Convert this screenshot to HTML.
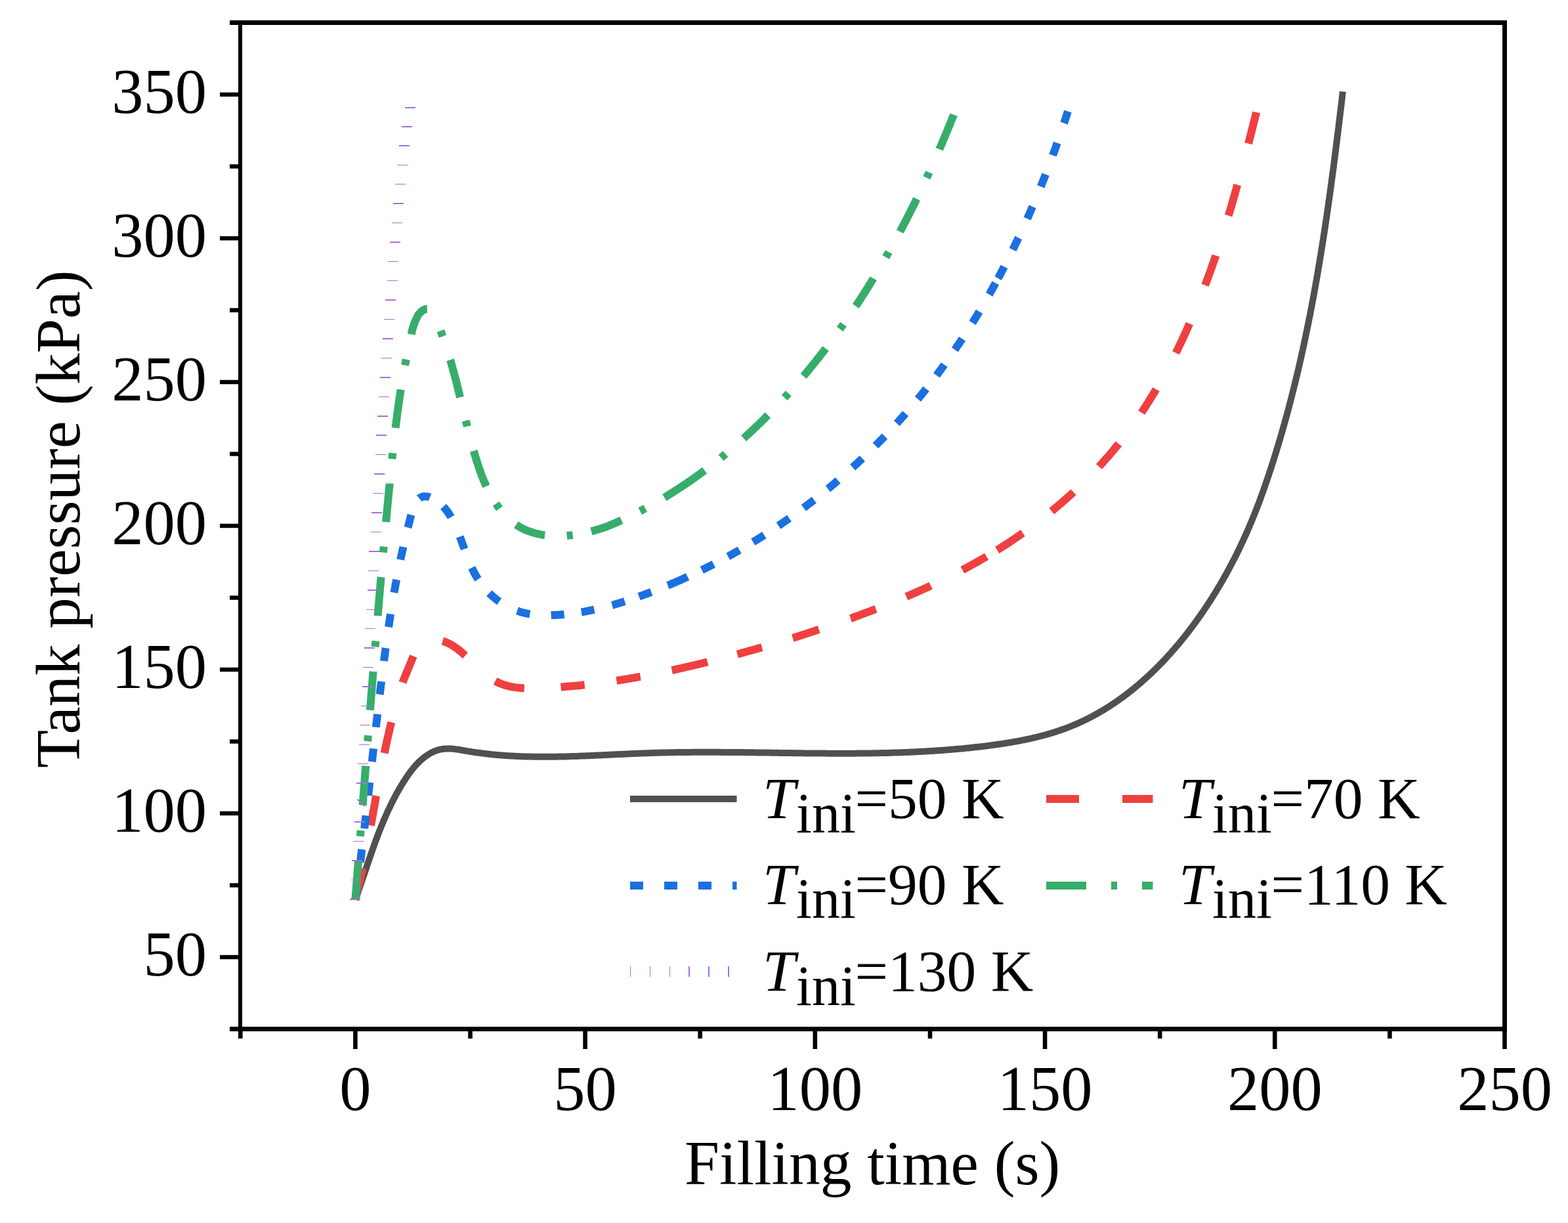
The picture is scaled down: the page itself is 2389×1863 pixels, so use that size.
<!DOCTYPE html>
<html><head><meta charset="utf-8"><title>Tank pressure vs filling time</title>
<style>html,body{margin:0;padding:0;background:#fff;}svg{display:block;}text{font-family:"Liberation Serif","Times New Roman",serif;fill:#000;}</style></head><body>
<svg width="2389" height="1863" viewBox="0 0 2389 1863">
<rect x="0" y="0" width="2389" height="1863" fill="#fff"/>
<g id="curves">
<path d="M541.4,1370.4 L542.1,1368.5 L542.8,1366.6 L543.5,1364.6 L544.1,1362.7 L544.8,1360.8 L545.5,1358.9 L546.2,1357.0 L546.8,1355.1 L547.5,1353.2 L548.2,1351.3 L548.8,1349.4 L549.5,1347.4 L550.1,1345.5 L550.8,1343.6 L551.4,1341.7 L552.1,1339.8 L552.7,1337.9 L553.4,1336.0 L554.0,1334.1 L554.6,1332.3 L555.3,1330.4 L555.9,1328.5 L556.6,1326.6 L557.2,1324.7 L557.8,1322.8 L558.5,1320.9 L559.1,1319.0 L559.7,1317.1 L560.4,1315.3 L561.0,1313.4 L561.7,1311.5 L562.3,1309.6 L562.9,1307.7 L563.6,1305.9 L564.2,1304.0 L564.9,1302.1 L565.5,1300.3 L566.2,1298.4 L566.8,1296.5 L567.5,1294.7 L568.1,1292.8 L568.8,1290.9 L569.5,1289.1 L570.1,1287.2 L570.8,1285.4 L571.5,1283.5 L572.2,1281.6 L572.8,1279.8 L573.5,1277.9 L574.2,1276.1 L574.9,1274.2 L575.6,1272.4 L576.3,1270.5 L577.0,1268.7 L577.7,1266.9 L578.4,1265.0 L579.2,1263.2 L579.9,1261.3 L580.6,1259.5 L581.4,1257.7 L582.1,1255.8 L582.9,1254.0 L583.7,1252.2 L584.4,1250.4 L585.2,1248.5 L586.0,1246.7 L586.8,1244.9 L587.6,1243.1 L588.4,1241.3 L589.2,1239.4 L590.0,1237.6 L590.8,1235.8 L591.7,1234.0 L592.5,1232.2 L593.4,1230.4 L594.3,1228.6 L595.1,1226.8 L596.0,1225.0 L596.9,1223.2 L597.8,1221.4 L598.7,1219.6 L599.6,1217.8 L600.6,1216.0 L601.5,1214.2 L602.5,1212.4 L603.4,1210.6 L604.4,1208.8 L605.4,1207.1 L606.4,1205.3 L607.4,1203.5 L608.4,1201.7 L609.5,1199.9 L610.5,1198.2 L611.6,1196.4 L612.6,1194.6 L613.7,1192.9 L614.8,1191.1 L615.9,1189.3 L617.1,1187.6 L618.2,1185.8 L619.4,1184.1 L620.5,1182.4 L621.7,1180.7 L622.9,1179.0 L624.1,1177.3 L625.4,1175.6 L626.6,1174.0 L627.9,1172.3 L629.2,1170.7 L630.5,1169.1 L631.9,1167.6 L633.2,1166.0 L634.6,1164.5 L636.0,1163.0 L637.4,1161.6 L638.9,1160.1 L640.4,1158.7 L641.9,1157.4 L643.4,1156.1 L644.9,1154.8 L646.5,1153.5 L648.1,1152.3 L649.7,1151.2 L651.4,1150.1 L653.0,1149.0 L654.7,1148.0 L656.4,1147.0 L658.1,1146.1 L659.9,1145.3 L661.6,1144.5 L663.4,1143.8 L665.2,1143.2 L667.0,1142.6 L668.9,1142.1 L670.7,1141.7 L672.6,1141.3 L674.5,1141.0 L676.3,1140.8 L678.2,1140.6 L680.2,1140.5 L682.1,1140.5 L684.0,1140.5 L686.0,1140.5 L687.9,1140.6 L689.9,1140.8 L691.8,1140.9 L693.8,1141.2 L695.8,1141.4 L697.7,1141.7 L699.7,1142.0 L701.7,1142.3 L703.7,1142.7 L705.6,1143.0 L707.6,1143.4 L709.6,1143.7 L711.6,1144.1 L713.5,1144.4 L715.5,1144.7 L717.5,1145.0 L719.5,1145.4 L721.5,1145.7 L723.5,1146.0 L725.4,1146.3 L727.4,1146.5 L729.4,1146.8 L731.4,1147.1 L733.4,1147.3 L735.4,1147.6 L737.3,1147.8 L739.3,1148.1 L741.3,1148.3 L743.3,1148.5 L745.3,1148.8 L747.3,1149.0 L749.3,1149.2 L751.3,1149.4 L753.2,1149.6 L755.2,1149.7 L757.2,1149.9 L759.2,1150.1 L761.2,1150.3 L763.2,1150.4 L765.2,1150.6 L767.2,1150.7 L769.2,1150.9 L771.2,1151.0 L773.1,1151.2 L775.1,1151.3 L777.1,1151.4 L779.1,1151.5 L781.1,1151.6 L783.1,1151.7 L785.1,1151.8 L787.1,1151.9 L789.1,1152.0 L791.1,1152.1 L793.1,1152.2 L795.1,1152.3 L797.1,1152.3 L799.1,1152.4 L801.1,1152.5 L803.1,1152.5 L805.1,1152.6 L807.1,1152.6 L809.1,1152.6 L811.1,1152.7 L813.0,1152.7 L815.0,1152.7 L817.0,1152.8 L819.0,1152.8 L821.0,1152.8 L823.0,1152.8 L825.0,1152.8 L827.0,1152.8 L829.0,1152.8 L831.0,1152.8 L833.0,1152.8 L835.0,1152.8 L837.0,1152.8 L839.0,1152.8 L841.0,1152.8 L843.0,1152.8 L845.0,1152.7 L847.0,1152.7 L849.0,1152.7 L851.0,1152.6 L853.0,1152.6 L855.0,1152.5 L857.1,1152.5 L859.1,1152.5 L861.1,1152.4 L863.1,1152.4 L865.1,1152.3 L867.1,1152.3 L869.1,1152.2 L871.1,1152.1 L873.1,1152.1 L875.1,1152.0 L877.1,1151.9 L879.1,1151.9 L881.1,1151.8 L883.1,1151.7 L885.1,1151.6 L887.1,1151.6 L889.1,1151.5 L891.1,1151.4 L893.1,1151.3 L895.1,1151.3 L897.1,1151.2 L899.1,1151.1 L901.1,1151.0 L903.1,1150.9 L905.1,1150.8 L907.1,1150.7 L909.1,1150.6 L911.2,1150.6 L913.2,1150.5 L915.2,1150.4 L917.2,1150.3 L919.2,1150.2 L921.2,1150.1 L923.2,1150.0 L925.2,1149.9 L927.2,1149.8 L929.2,1149.7 L931.2,1149.6 L933.2,1149.5 L935.2,1149.4 L937.2,1149.3 L939.2,1149.2 L941.2,1149.1 L943.2,1149.0 L945.2,1148.9 L947.2,1148.9 L949.3,1148.8 L951.3,1148.7 L953.3,1148.6 L955.3,1148.5 L957.3,1148.4 L959.3,1148.3 L961.3,1148.2 L963.3,1148.1 L965.3,1148.0 L967.3,1148.0 L969.3,1147.9 L971.3,1147.8 L973.3,1147.7 L975.3,1147.6 L977.3,1147.5 L979.3,1147.5 L981.3,1147.4 L983.3,1147.3 L985.3,1147.2 L987.3,1147.2 L989.3,1147.1 L991.3,1147.0 L993.3,1147.0 L995.4,1146.9 L997.4,1146.8 L999.4,1146.8 L1001.4,1146.7 L1003.4,1146.7 L1005.4,1146.6 L1007.4,1146.6 L1009.4,1146.5 L1011.4,1146.5 L1013.4,1146.4 L1015.4,1146.4 L1017.4,1146.3 L1019.4,1146.3 L1021.4,1146.3 L1023.4,1146.2 L1025.4,1146.2 L1027.4,1146.2 L1029.4,1146.1 L1031.4,1146.1 L1033.4,1146.1 L1035.4,1146.0 L1037.4,1146.0 L1039.4,1146.0 L1041.4,1146.0 L1043.4,1145.9 L1045.4,1145.9 L1047.4,1145.9 L1049.4,1145.9 L1051.4,1145.9 L1053.4,1145.9 L1055.4,1145.8 L1057.4,1145.8 L1059.4,1145.8 L1061.4,1145.8 L1063.4,1145.8 L1065.4,1145.8 L1067.4,1145.8 L1069.4,1145.8 L1071.4,1145.8 L1073.4,1145.8 L1075.4,1145.8 L1077.4,1145.8 L1079.4,1145.8 L1081.4,1145.8 L1083.4,1145.8 L1085.4,1145.8 L1087.4,1145.8 L1089.4,1145.8 L1091.4,1145.8 L1093.4,1145.8 L1095.4,1145.8 L1097.4,1145.8 L1099.4,1145.9 L1101.4,1145.9 L1103.4,1145.9 L1105.4,1145.9 L1107.4,1145.9 L1109.4,1145.9 L1111.4,1145.9 L1113.4,1145.9 L1115.4,1146.0 L1117.4,1146.0 L1119.4,1146.0 L1121.4,1146.0 L1123.4,1146.0 L1125.4,1146.1 L1127.4,1146.1 L1129.4,1146.1 L1131.4,1146.1 L1133.4,1146.1 L1135.4,1146.2 L1137.4,1146.2 L1139.4,1146.2 L1141.4,1146.2 L1143.4,1146.3 L1145.4,1146.3 L1147.4,1146.3 L1149.4,1146.3 L1151.4,1146.4 L1153.4,1146.4 L1155.4,1146.4 L1157.3,1146.4 L1159.3,1146.5 L1161.3,1146.5 L1163.3,1146.5 L1165.3,1146.6 L1167.3,1146.6 L1169.3,1146.6 L1171.3,1146.6 L1173.3,1146.7 L1175.3,1146.7 L1177.3,1146.7 L1179.3,1146.8 L1181.3,1146.8 L1183.3,1146.8 L1185.3,1146.8 L1187.3,1146.9 L1189.3,1146.9 L1191.3,1146.9 L1193.3,1147.0 L1195.3,1147.0 L1197.3,1147.0 L1199.3,1147.0 L1201.3,1147.1 L1203.3,1147.1 L1205.3,1147.1 L1207.3,1147.1 L1209.3,1147.2 L1211.3,1147.2 L1213.3,1147.2 L1215.3,1147.2 L1217.3,1147.3 L1219.3,1147.3 L1221.3,1147.3 L1223.3,1147.3 L1225.3,1147.4 L1227.3,1147.4 L1229.2,1147.4 L1231.2,1147.4 L1233.2,1147.4 L1235.2,1147.5 L1237.2,1147.5 L1239.2,1147.5 L1241.2,1147.5 L1243.2,1147.5 L1245.2,1147.6 L1247.2,1147.6 L1249.2,1147.6 L1251.2,1147.6 L1253.2,1147.6 L1255.2,1147.6 L1257.2,1147.6 L1259.2,1147.7 L1261.2,1147.7 L1263.2,1147.7 L1265.2,1147.7 L1267.2,1147.7 L1269.2,1147.7 L1271.2,1147.7 L1273.2,1147.7 L1275.2,1147.7 L1277.2,1147.7 L1279.2,1147.7 L1281.2,1147.7 L1283.2,1147.7 L1285.2,1147.7 L1287.2,1147.7 L1289.2,1147.7 L1291.2,1147.7 L1293.2,1147.7 L1295.2,1147.7 L1297.2,1147.7 L1299.2,1147.7 L1301.2,1147.7 L1303.2,1147.7 L1305.1,1147.6 L1307.1,1147.6 L1309.1,1147.6 L1311.1,1147.6 L1313.1,1147.6 L1315.1,1147.6 L1317.1,1147.5 L1319.1,1147.5 L1321.1,1147.5 L1323.1,1147.5 L1325.1,1147.4 L1327.1,1147.4 L1329.1,1147.4 L1331.1,1147.3 L1333.1,1147.3 L1335.1,1147.3 L1337.1,1147.2 L1339.1,1147.2 L1341.1,1147.1 L1343.1,1147.1 L1345.1,1147.1 L1347.1,1147.0 L1349.1,1147.0 L1351.1,1146.9 L1353.1,1146.9 L1355.1,1146.8 L1357.1,1146.8 L1359.1,1146.7 L1361.1,1146.6 L1363.1,1146.6 L1365.1,1146.5 L1367.1,1146.4 L1369.1,1146.4 L1371.1,1146.3 L1373.1,1146.2 L1375.1,1146.2 L1377.1,1146.1 L1379.1,1146.0 L1381.1,1145.9 L1383.1,1145.9 L1385.1,1145.8 L1387.1,1145.7 L1389.1,1145.6 L1391.1,1145.5 L1393.1,1145.4 L1395.1,1145.3 L1397.1,1145.2 L1399.1,1145.1 L1401.1,1145.0 L1403.1,1144.9 L1405.1,1144.8 L1407.1,1144.7 L1409.1,1144.6 L1411.1,1144.5 L1413.1,1144.3 L1415.1,1144.2 L1417.1,1144.1 L1419.1,1144.0 L1421.1,1143.9 L1423.1,1143.7 L1425.1,1143.6 L1427.1,1143.5 L1429.1,1143.3 L1431.1,1143.2 L1433.1,1143.0 L1435.1,1142.9 L1437.1,1142.7 L1439.1,1142.6 L1441.1,1142.4 L1443.1,1142.3 L1445.1,1142.1 L1447.1,1142.0 L1449.2,1141.8 L1451.2,1141.6 L1453.2,1141.5 L1455.2,1141.3 L1457.2,1141.1 L1459.2,1140.9 L1461.2,1140.7 L1463.2,1140.6 L1465.2,1140.4 L1467.2,1140.2 L1469.2,1140.0 L1471.2,1139.8 L1473.2,1139.6 L1475.2,1139.4 L1477.2,1139.2 L1479.2,1139.0 L1481.2,1138.8 L1483.2,1138.5 L1485.2,1138.3 L1487.2,1138.1 L1489.2,1137.9 L1491.2,1137.6 L1493.2,1137.4 L1495.3,1137.2 L1497.3,1136.9 L1499.3,1136.7 L1501.3,1136.4 L1503.3,1136.2 L1505.3,1135.9 L1507.3,1135.7 L1509.3,1135.4 L1511.3,1135.1 L1513.3,1134.9 L1515.3,1134.6 L1517.3,1134.3 L1519.3,1134.0 L1521.3,1133.8 L1523.3,1133.5 L1525.3,1133.2 L1527.3,1132.9 L1529.3,1132.6 L1531.3,1132.3 L1533.3,1131.9 L1535.3,1131.6 L1537.3,1131.3 L1539.3,1131.0 L1541.3,1130.6 L1543.3,1130.3 L1545.3,1129.9 L1547.3,1129.6 L1549.3,1129.2 L1551.3,1128.9 L1553.3,1128.5 L1555.2,1128.1 L1557.2,1127.7 L1559.2,1127.3 L1561.2,1126.9 L1563.1,1126.5 L1565.1,1126.1 L1567.1,1125.7 L1569.1,1125.3 L1571.0,1124.8 L1573.0,1124.4 L1574.9,1123.9 L1576.9,1123.5 L1578.8,1123.0 L1580.8,1122.5 L1582.7,1122.0 L1584.7,1121.5 L1586.6,1121.0 L1588.6,1120.5 L1590.5,1120.0 L1592.4,1119.5 L1594.3,1119.0 L1596.3,1118.4 L1598.2,1117.9 L1600.1,1117.3 L1602.0,1116.7 L1603.9,1116.2 L1605.8,1115.6 L1607.7,1115.0 L1609.6,1114.3 L1611.5,1113.7 L1613.4,1113.1 L1615.3,1112.5 L1617.2,1111.8 L1619.0,1111.1 L1620.9,1110.5 L1622.8,1109.8 L1624.6,1109.1 L1626.5,1108.4 L1628.3,1107.7 L1630.2,1107.0 L1632.0,1106.2 L1633.8,1105.5 L1635.7,1104.7 L1637.5,1103.9 L1639.3,1103.2 L1641.1,1102.4 L1642.9,1101.6 L1644.7,1100.8 L1646.5,1099.9 L1648.3,1099.1 L1650.1,1098.3 L1651.9,1097.4 L1653.7,1096.5 L1655.4,1095.7 L1657.2,1094.8 L1659.0,1093.9 L1660.7,1093.0 L1662.5,1092.1 L1664.2,1091.2 L1666.0,1090.2 L1667.7,1089.3 L1669.4,1088.3 L1671.1,1087.4 L1672.9,1086.4 L1674.6,1085.4 L1676.3,1084.4 L1678.0,1083.4 L1679.7,1082.4 L1681.4,1081.4 L1683.1,1080.4 L1684.8,1079.3 L1686.5,1078.3 L1688.1,1077.2 L1689.8,1076.2 L1691.5,1075.1 L1693.1,1074.0 L1694.8,1072.9 L1696.4,1071.8 L1698.1,1070.7 L1699.7,1069.6 L1701.3,1068.5 L1703.0,1067.3 L1704.6,1066.2 L1706.2,1065.0 L1707.8,1063.9 L1709.4,1062.7 L1711.0,1061.5 L1712.6,1060.4 L1714.2,1059.2 L1715.8,1058.0 L1717.4,1056.8 L1719.0,1055.5 L1720.6,1054.3 L1722.1,1053.1 L1723.7,1051.9 L1725.2,1050.6 L1726.8,1049.4 L1728.3,1048.1 L1729.9,1046.8 L1731.4,1045.5 L1733.0,1044.3 L1734.5,1043.0 L1736.0,1041.7 L1737.5,1040.4 L1739.0,1039.1 L1740.5,1037.7 L1742.0,1036.4 L1743.5,1035.1 L1745.0,1033.7 L1746.5,1032.4 L1748.0,1031.0 L1749.5,1029.7 L1750.9,1028.3 L1752.4,1026.9 L1753.9,1025.6 L1755.3,1024.2 L1756.8,1022.8 L1758.2,1021.4 L1759.6,1020.0 L1761.1,1018.6 L1762.5,1017.1 L1763.9,1015.7 L1765.3,1014.3 L1766.8,1012.8 L1768.2,1011.4 L1769.6,1010.0 L1771.0,1008.5 L1772.4,1007.0 L1773.7,1005.6 L1775.1,1004.1 L1776.5,1002.6 L1777.9,1001.1 L1779.2,999.7 L1780.6,998.2 L1782.0,996.7 L1783.3,995.2 L1784.7,993.7 L1786.0,992.1 L1787.3,990.6 L1788.7,989.1 L1790.0,987.6 L1791.3,986.0 L1792.6,984.5 L1793.9,983.0 L1795.2,981.4 L1796.5,979.9 L1797.8,978.3 L1799.1,976.7 L1800.4,975.2 L1801.7,973.6 L1802.9,972.0 L1804.2,970.4 L1805.5,968.9 L1806.7,967.3 L1808.0,965.7 L1809.2,964.1 L1810.5,962.5 L1811.7,960.9 L1812.9,959.3 L1814.2,957.6 L1815.4,956.0 L1816.6,954.4 L1817.8,952.8 L1819.0,951.2 L1820.2,949.5 L1821.4,947.9 L1822.6,946.3 L1823.8,944.6 L1825.0,943.0 L1826.1,941.3 L1827.3,939.7 L1828.5,938.0 L1829.6,936.4 L1830.8,934.7 L1831.9,933.0 L1833.1,931.4 L1834.2,929.7 L1835.3,928.0 L1836.4,926.4 L1837.6,924.7 L1838.7,923.0 L1839.8,921.3 L1840.9,919.6 L1842.0,917.9 L1843.1,916.3 L1844.2,914.6 L1845.3,912.9 L1846.3,911.2 L1847.4,909.5 L1848.5,907.8 L1849.5,906.1 L1850.6,904.4 L1851.7,902.7 L1852.7,901.0 L1853.7,899.2 L1854.8,897.5 L1855.8,895.8 L1856.8,894.1 L1857.9,892.4 L1858.9,890.7 L1859.9,888.9 L1860.9,887.2 L1861.9,885.5 L1862.9,883.8 L1863.9,882.0 L1864.9,880.3 L1865.8,878.6 L1866.8,876.8 L1867.8,875.1 L1868.8,873.3 L1869.7,871.6 L1870.7,869.8 L1871.6,868.1 L1872.6,866.4 L1873.5,864.6 L1874.4,862.8 L1875.4,861.1 L1876.3,859.3 L1877.2,857.6 L1878.1,855.8 L1879.0,854.0 L1880.0,852.3 L1880.9,850.5 L1881.8,848.7 L1882.7,847.0 L1883.5,845.2 L1884.4,843.4 L1885.3,841.6 L1886.2,839.9 L1887.1,838.1 L1887.9,836.3 L1888.8,834.5 L1889.6,832.7 L1890.5,830.9 L1891.3,829.1 L1892.2,827.3 L1893.0,825.5 L1893.9,823.7 L1894.7,821.9 L1895.5,820.1 L1896.3,818.3 L1897.1,816.5 L1898.0,814.7 L1898.8,812.9 L1899.6,811.0 L1900.4,809.2 L1901.2,807.4 L1902.0,805.6 L1902.7,803.7 L1903.5,801.9 L1904.3,800.1 L1905.1,798.3 L1905.9,796.4 L1906.6,794.6 L1907.4,792.7 L1908.1,790.9 L1908.9,789.1 L1909.6,787.2 L1910.4,785.4 L1911.1,783.5 L1911.9,781.7 L1912.6,779.8 L1913.3,777.9 L1914.1,776.1 L1914.8,774.2 L1915.5,772.4 L1916.2,770.5 L1916.9,768.6 L1917.7,766.8 L1918.4,764.9 L1919.1,763.0 L1919.8,761.2 L1920.5,759.3 L1921.1,757.4 L1921.8,755.5 L1922.5,753.6 L1923.2,751.8 L1923.9,749.9 L1924.6,748.0 L1925.2,746.1 L1925.9,744.2 L1926.6,742.3 L1927.2,740.4 L1927.9,738.6 L1928.5,736.7 L1929.2,734.8 L1929.8,732.9 L1930.5,731.0 L1931.1,729.1 L1931.8,727.2 L1932.4,725.3 L1933.1,723.4 L1933.7,721.5 L1934.3,719.6 L1934.9,717.7 L1935.6,715.8 L1936.2,713.9 L1936.8,712.0 L1937.4,710.1 L1938.0,708.2 L1938.7,706.2 L1939.3,704.3 L1939.9,702.4 L1940.5,700.5 L1941.1,698.6 L1941.7,696.7 L1942.3,694.8 L1942.9,692.9 L1943.5,691.0 L1944.1,689.0 L1944.7,687.1 L1945.2,685.2 L1945.8,683.3 L1946.4,681.4 L1947.0,679.5 L1947.6,677.5 L1948.1,675.6 L1948.7,673.7 L1949.3,671.8 L1949.9,669.9 L1950.4,668.0 L1951.0,666.0 L1951.6,664.1 L1952.1,662.2 L1952.7,660.3 L1953.2,658.3 L1953.8,656.4 L1954.3,654.5 L1954.9,652.6 L1955.4,650.6 L1956.0,648.7 L1956.5,646.8 L1957.1,644.9 L1957.6,642.9 L1958.1,641.0 L1958.7,639.1 L1959.2,637.1 L1959.7,635.2 L1960.3,633.3 L1960.8,631.3 L1961.3,629.4 L1961.8,627.5 L1962.3,625.6 L1962.9,623.6 L1963.4,621.7 L1963.9,619.7 L1964.4,617.8 L1964.9,615.9 L1965.4,613.9 L1965.9,612.0 L1966.4,610.1 L1966.9,608.1 L1967.4,606.2 L1967.9,604.3 L1968.4,602.3 L1968.9,600.4 L1969.4,598.4 L1969.9,596.5 L1970.4,594.5 L1970.9,592.6 L1971.3,590.7 L1971.8,588.7 L1972.3,586.8 L1972.8,584.8 L1973.3,582.9 L1973.7,580.9 L1974.2,579.0 L1974.7,577.1 L1975.1,575.1 L1975.6,573.2 L1976.1,571.2 L1976.5,569.3 L1977.0,567.3 L1977.5,565.4 L1977.9,563.4 L1978.4,561.5 L1978.8,559.5 L1979.3,557.6 L1979.7,555.6 L1980.2,553.7 L1980.6,551.7 L1981.1,549.8 L1981.5,547.8 L1982.0,545.9 L1982.4,543.9 L1982.8,542.0 L1983.3,540.0 L1983.7,538.0 L1984.1,536.1 L1984.6,534.1 L1985.0,532.2 L1985.4,530.2 L1985.8,528.3 L1986.3,526.3 L1986.7,524.4 L1987.1,522.4 L1987.5,520.4 L1987.9,518.5 L1988.4,516.5 L1988.8,514.6 L1989.2,512.6 L1989.6,510.6 L1990.0,508.7 L1990.4,506.7 L1990.8,504.8 L1991.2,502.8 L1991.6,500.8 L1992.0,498.9 L1992.4,496.9 L1992.8,494.9 L1993.2,493.0 L1993.6,491.0 L1994.0,489.1 L1994.4,487.1 L1994.8,485.1 L1995.2,483.2 L1995.6,481.2 L1996.0,479.2 L1996.3,477.3 L1996.7,475.3 L1997.1,473.3 L1997.5,471.4 L1997.9,469.4 L1998.2,467.4 L1998.6,465.5 L1999.0,463.5 L1999.4,461.5 L1999.7,459.6 L2000.1,457.6 L2000.5,455.6 L2000.8,453.7 L2001.2,451.7 L2001.6,449.7 L2001.9,447.7 L2002.3,445.8 L2002.6,443.8 L2003.0,441.8 L2003.4,439.9 L2003.7,437.9 L2004.1,435.9 L2004.4,433.9 L2004.8,432.0 L2005.1,430.0 L2005.5,428.0 L2005.8,426.0 L2006.2,424.1 L2006.5,422.1 L2006.8,420.1 L2007.2,418.2 L2007.5,416.2 L2007.9,414.2 L2008.2,412.2 L2008.5,410.3 L2008.9,408.3 L2009.2,406.3 L2009.5,404.3 L2009.9,402.3 L2010.2,400.4 L2010.5,398.4 L2010.9,396.4 L2011.2,394.4 L2011.5,392.5 L2011.8,390.5 L2012.2,388.5 L2012.5,386.5 L2012.8,384.5 L2013.1,382.6 L2013.5,380.6 L2013.8,378.6 L2014.1,376.6 L2014.4,374.7 L2014.7,372.7 L2015.0,370.7 L2015.3,368.7 L2015.7,366.7 L2016.0,364.8 L2016.3,362.8 L2016.6,360.8 L2016.9,358.8 L2017.2,356.8 L2017.5,354.9 L2017.8,352.9 L2018.1,350.9 L2018.4,348.9 L2018.7,346.9 L2019.0,344.9 L2019.3,343.0 L2019.6,341.0 L2019.9,339.0 L2020.2,337.0 L2020.5,335.0 L2020.8,333.1 L2021.1,331.1 L2021.4,329.1 L2021.7,327.1 L2021.9,325.1 L2022.2,323.1 L2022.5,321.2 L2022.8,319.2 L2023.1,317.2 L2023.4,315.2 L2023.7,313.2 L2023.9,311.2 L2024.2,309.3 L2024.5,307.3 L2024.8,305.3 L2025.1,303.3 L2025.4,301.3 L2025.6,299.3 L2025.9,297.4 L2026.2,295.4 L2026.5,293.4 L2026.7,291.4 L2027.0,289.4 L2027.3,287.4 L2027.6,285.4 L2027.8,283.5 L2028.1,281.5 L2028.4,279.5 L2028.6,277.5 L2028.9,275.5 L2029.2,273.5 L2029.4,271.6 L2029.7,269.6 L2030.0,267.6 L2030.2,265.6 L2030.5,263.6 L2030.8,261.6 L2031.0,259.6 L2031.3,257.7 L2031.6,255.7 L2031.8,253.7 L2032.1,251.7 L2032.3,249.7 L2032.6,247.7 L2032.8,245.7 L2033.1,243.8 L2033.4,241.8 L2033.6,239.8 L2033.9,237.8 L2034.1,235.8 L2034.4,233.8 L2034.6,231.8 L2034.9,229.9 L2035.1,227.9 L2035.4,225.9 L2035.6,223.9 L2035.9,221.9 L2036.1,219.9 L2036.4,218.0 L2036.6,216.0 L2036.9,214.0 L2037.1,212.0 L2037.4,210.0 L2037.6,208.0 L2037.9,206.0 L2038.1,204.1 L2038.4,202.1 L2038.6,200.1 L2038.9,198.1 L2039.1,196.1 L2039.4,194.1 L2039.6,192.2 L2039.8,190.2 L2040.1,188.2 L2040.3,186.2 L2040.6,184.2 L2040.8,182.2 L2041.0,180.2 L2041.3,178.3 L2041.5,176.3 L2041.8,174.3 L2042.0,172.3 L2042.2,170.3 L2042.5,168.3 L2042.7,166.4 L2043.0,164.4 L2043.2,162.4 L2043.4,160.4 L2043.7,158.4 L2043.9,156.4 L2044.1,154.5 L2044.4,152.5 L2044.6,150.5 L2044.8,148.5 L2045.1,146.5 L2045.3,144.6 L2045.5,142.6 L2045.8,140.6 L2045.9,139.6" fill="none" stroke="#505050" stroke-width="10" stroke-linejoin="round"/>
<path d="M541.4,1370.4 L541.9,1368.5 L542.4,1366.5 L542.9,1364.6 L543.3,1362.6 L543.8,1360.7 L544.3,1358.7 L544.7,1356.8 L545.2,1354.8 L545.7,1352.9 L546.1,1350.9 L546.6,1349.0 L547.0,1347.0 L547.5,1345.0 L547.9,1343.1 L548.4,1341.1 L548.8,1339.2 L549.2,1337.2 L549.7,1335.3 L550.1,1333.3 L550.5,1331.3 L550.9,1329.4 L551.4,1327.4 L551.8,1325.5 L552.2,1323.5 L552.6,1321.5 L553.0,1319.6 L553.4,1317.6 L553.8,1315.7 L554.2,1313.7 L554.6,1311.7 L555.0,1309.8 L555.4,1307.8 L555.8,1305.8 L556.2,1303.9 L556.6,1301.9 L557.0,1299.9 L557.4,1298.0 L557.8,1296.0 L558.2,1294.0 L558.5,1292.1 L558.9,1290.1 L559.3,1288.1 L559.7,1286.1 L560.0,1284.2 L560.4,1282.2 L560.8,1280.2 L561.2,1278.3 L561.5,1276.3 L561.9,1274.3 L562.3,1272.3 L562.6,1270.4 L563.0,1268.4 L563.4,1266.4 L563.7,1264.4 L564.1,1262.5 L564.4,1260.5 L564.8,1258.5 L565.2,1256.6 L565.5,1254.6 L565.9,1252.6 L566.2,1250.6 L566.6,1248.7 L567.0,1246.7 L567.3,1244.7 L567.7,1242.7 L568.0,1240.8 L568.4,1238.8 L568.7,1236.8 L569.1,1234.8 L569.4,1232.9 L569.8,1230.9 L570.2,1228.9 L570.5,1226.9 L570.9,1225.0 L571.2,1223.0 L571.6,1221.0 L571.9,1219.0 L572.3,1217.1 L572.6,1215.1 L573.0,1213.1 L573.4,1211.1 L573.7,1209.2 L574.1,1207.2 L574.4,1205.2 L574.8,1203.2 L575.2,1201.3 L575.5,1199.3 L575.9,1197.3 L576.3,1195.4 L576.6,1193.4 L577.0,1191.4 L577.4,1189.4 L577.7,1187.5 L578.1,1185.5 L578.5,1183.5 L578.8,1181.5 L579.2,1179.6 L579.6,1177.6 L580.0,1175.6 L580.3,1173.7 L580.7,1171.7 L581.1,1169.7 L581.5,1167.8 L581.9,1165.8 L582.3,1163.8 L582.7,1161.9 L583.0,1159.9 L583.4,1157.9 L583.8,1156.0 L584.2,1154.0 L584.6,1152.0 L585.0,1150.1 L585.4,1148.1 L585.8,1146.1 L586.3,1144.2 L586.7,1142.2 L587.1,1140.3 L587.5,1138.3 L587.9,1136.3 L588.3,1134.4 L588.8,1132.4 L589.2,1130.4 L589.6,1128.5 L590.1,1126.5 L590.5,1124.6 L590.9,1122.6 L591.4,1120.7 L591.8,1118.7 L592.3,1116.8 L592.7,1114.8 L593.2,1112.8 L593.6,1110.9 L594.1,1108.9 L594.6,1107.0 L595.0,1105.0 L595.5,1103.1 L596.0,1101.1 L596.5,1099.2 L597.0,1097.3 L597.4,1095.3 L597.9,1093.4 L598.4,1091.4 L598.9,1089.5 L599.4,1087.5 L599.9,1085.6 L600.5,1083.7 L601.0,1081.7 L601.5,1079.8 L602.0,1077.8 L602.5,1075.9 L603.1,1074.0 L603.6,1072.0 L604.2,1070.1 L604.7,1068.2 L605.3,1066.2 L605.8,1064.3 L606.4,1062.4 L606.9,1060.4 L607.5,1058.5 L608.1,1056.6 L608.7,1054.7 L609.3,1052.7 L609.8,1050.8 L610.4,1048.9 L611.0,1047.0 L611.6,1045.1 L612.3,1043.1 L612.9,1041.2 L613.5,1039.3 L614.3,1037.4 L615.0,1035.6 L615.8,1033.7 L616.6,1031.9 L617.3,1030.0 L618.1,1028.1 L618.8,1026.3 L619.6,1024.4 L620.4,1022.6 L621.1,1020.7 L621.9,1018.8 L622.7,1017.0 L623.4,1015.1 L624.2,1013.3 L624.9,1011.4 L625.7,1009.5 L626.5,1007.7 L627.2,1005.8 L628.0,1004.0 L628.8,1002.1 L629.5,1000.2 L630.3,998.3 L631.2,996.3 L632.2,994.4 L633.3,992.5 L634.4,990.7 L635.7,989.0 L637.0,987.4 L638.4,985.8 L639.8,984.3 L641.3,982.9 L642.9,981.6 L644.5,980.4 L646.2,979.3 L647.9,978.3 L649.7,977.4 L651.4,976.7 L653.2,976.0 L655.1,975.5 L656.9,975.1 L658.8,974.8 L660.6,974.7 L662.5,974.6 L664.4,974.7 L666.2,974.8 L668.1,975.1 L670.0,975.4 L671.8,975.8 L673.6,976.2 L675.5,976.8 L677.2,977.4 L679.0,978.1 L680.8,978.8 L682.5,979.6 L684.2,980.4 L685.9,981.3 L687.6,982.3 L689.2,983.2 L690.9,984.3 L692.5,985.4 L694.2,986.5 L695.8,987.6 L697.4,988.8 L699.0,990.1 L700.5,991.3 L702.1,992.6 L703.7,994.0 L705.2,995.3 L706.8,996.7 L708.3,998.1 L709.9,999.5 L711.4,1000.9 L712.9,1002.3 L714.5,1003.8 L716.0,1005.2 L717.5,1006.7 L719.0,1008.2 L720.5,1009.7 L722.1,1011.1 L723.6,1012.6 L725.1,1014.1 L726.6,1015.5 L728.2,1017.0 L729.7,1018.4 L731.3,1019.8 L732.8,1021.3 L734.4,1022.6 L735.9,1024.0 L737.5,1025.4 L739.1,1026.7 L740.7,1028.0 L742.3,1029.2 L743.9,1030.5 L745.5,1031.7 L747.2,1032.8 L748.8,1034.0 L750.5,1035.0 L752.2,1036.1 L753.9,1037.1 L755.6,1038.0 L757.4,1038.9 L759.1,1039.8 L760.9,1040.6 L762.7,1041.3 L764.5,1042.0 L766.3,1042.7 L768.1,1043.3 L770.0,1043.9 L771.8,1044.4 L773.7,1044.9 L775.6,1045.4 L777.5,1045.8 L779.4,1046.2 L781.3,1046.5 L783.3,1046.9 L785.2,1047.1 L787.1,1047.4 L789.1,1047.6 L791.1,1047.8 L793.1,1048.0 L795.0,1048.1 L797.0,1048.3 L799.0,1048.4 L801.0,1048.5 L803.0,1048.5 L805.1,1048.5 L807.1,1048.6 L809.1,1048.6 L811.1,1048.6 L813.2,1048.5 L815.2,1048.5 L817.2,1048.5 L819.3,1048.4 L821.3,1048.3 L823.3,1048.3 L825.4,1048.2 L827.4,1048.1 L829.4,1048.0 L831.5,1047.9 L833.5,1047.8 L835.5,1047.7 L837.5,1047.6 L839.6,1047.5 L841.6,1047.4 L843.6,1047.2 L845.6,1047.1 L847.7,1047.0 L849.7,1046.9 L851.7,1046.7 L853.7,1046.6 L855.7,1046.4 L857.8,1046.3 L859.8,1046.1 L861.8,1046.0 L863.8,1045.8 L865.8,1045.6 L867.8,1045.5 L869.8,1045.3 L871.8,1045.1 L873.8,1044.9 L875.9,1044.7 L877.9,1044.5 L879.9,1044.4 L881.9,1044.2 L883.9,1044.0 L885.9,1043.7 L887.9,1043.5 L889.9,1043.3 L891.9,1043.1 L893.9,1042.9 L895.9,1042.7 L897.9,1042.4 L899.9,1042.2 L901.8,1042.0 L903.8,1041.7 L905.8,1041.5 L907.8,1041.2 L909.8,1041.0 L911.8,1040.7 L913.8,1040.5 L915.8,1040.2 L917.8,1039.9 L919.7,1039.7 L921.7,1039.4 L923.7,1039.1 L925.7,1038.8 L927.7,1038.6 L929.7,1038.3 L931.6,1038.0 L933.6,1037.7 L935.6,1037.4 L937.6,1037.1 L939.5,1036.8 L941.5,1036.5 L943.5,1036.2 L945.5,1035.9 L947.4,1035.6 L949.4,1035.2 L951.4,1034.9 L953.4,1034.6 L955.3,1034.3 L957.3,1033.9 L959.3,1033.6 L961.2,1033.3 L963.2,1032.9 L965.2,1032.6 L967.1,1032.2 L969.1,1031.9 L971.1,1031.5 L973.0,1031.2 L975.0,1030.8 L977.0,1030.5 L978.9,1030.1 L980.9,1029.7 L982.8,1029.4 L984.8,1029.0 L986.8,1028.6 L988.7,1028.2 L990.7,1027.9 L992.6,1027.5 L994.6,1027.1 L996.6,1026.7 L998.5,1026.3 L1000.5,1025.9 L1002.4,1025.5 L1004.4,1025.1 L1006.3,1024.7 L1008.3,1024.3 L1010.2,1023.9 L1012.2,1023.5 L1014.1,1023.1 L1016.1,1022.7 L1018.0,1022.3 L1020.0,1021.8 L1021.9,1021.4 L1023.9,1021.0 L1025.8,1020.6 L1027.8,1020.1 L1029.7,1019.7 L1031.7,1019.3 L1033.6,1018.8 L1035.6,1018.4 L1037.5,1018.0 L1039.4,1017.5 L1041.4,1017.1 L1043.3,1016.6 L1045.3,1016.2 L1047.2,1015.7 L1049.2,1015.3 L1051.1,1014.8 L1053.0,1014.4 L1055.0,1013.9 L1056.9,1013.5 L1058.9,1013.0 L1060.8,1012.5 L1062.7,1012.1 L1064.7,1011.6 L1066.6,1011.1 L1068.6,1010.7 L1070.5,1010.2 L1072.4,1009.7 L1074.4,1009.2 L1076.3,1008.8 L1078.2,1008.3 L1080.2,1007.8 L1082.1,1007.3 L1084.1,1006.8 L1086.0,1006.3 L1087.9,1005.8 L1089.9,1005.4 L1091.8,1004.9 L1093.7,1004.4 L1095.7,1003.9 L1097.6,1003.4 L1099.5,1002.9 L1101.5,1002.4 L1103.4,1001.9 L1105.3,1001.4 L1107.3,1000.9 L1109.2,1000.3 L1111.1,999.8 L1113.0,999.3 L1115.0,998.8 L1116.9,998.3 L1118.8,997.8 L1120.8,997.3 L1122.7,996.7 L1124.6,996.2 L1126.6,995.7 L1128.5,995.2 L1130.4,994.6 L1132.3,994.1 L1134.3,993.6 L1136.2,993.0 L1138.1,992.5 L1140.0,992.0 L1142.0,991.4 L1143.9,990.9 L1145.8,990.4 L1147.7,989.8 L1149.7,989.3 L1151.6,988.7 L1153.5,988.2 L1155.4,987.6 L1157.3,987.1 L1159.3,986.5 L1161.2,986.0 L1163.1,985.4 L1165.0,984.8 L1166.9,984.3 L1168.9,983.7 L1170.8,983.1 L1172.7,982.6 L1174.6,982.0 L1176.5,981.4 L1178.5,980.9 L1180.4,980.3 L1182.3,979.7 L1184.2,979.1 L1186.1,978.6 L1188.0,978.0 L1189.9,977.4 L1191.9,976.8 L1193.8,976.2 L1195.7,975.6 L1197.6,975.1 L1199.5,974.5 L1201.4,973.9 L1203.3,973.3 L1205.2,972.7 L1207.1,972.1 L1209.1,971.5 L1211.0,970.9 L1212.9,970.3 L1214.8,969.7 L1216.7,969.1 L1218.6,968.5 L1220.5,967.8 L1222.4,967.2 L1224.3,966.6 L1226.2,966.0 L1228.1,965.4 L1230.0,964.8 L1231.9,964.1 L1233.8,963.5 L1235.7,962.9 L1237.6,962.3 L1239.5,961.6 L1241.4,961.0 L1243.3,960.4 L1245.2,959.7 L1247.1,959.1 L1249.0,958.5 L1250.9,957.8 L1252.8,957.2 L1254.7,956.5 L1256.6,955.9 L1258.5,955.3 L1260.4,954.6 L1262.3,954.0 L1264.2,953.3 L1266.1,952.7 L1268.0,952.0 L1269.9,951.3 L1271.8,950.7 L1273.6,950.0 L1275.5,949.4 L1277.4,948.7 L1279.3,948.0 L1281.2,947.4 L1283.1,946.7 L1285.0,946.0 L1286.9,945.3 L1288.8,944.7 L1290.6,944.0 L1292.5,943.3 L1294.4,942.6 L1296.3,942.0 L1298.2,941.3 L1300.1,940.6 L1301.9,939.9 L1303.8,939.2 L1305.7,938.5 L1307.6,937.8 L1309.4,937.1 L1311.3,936.4 L1313.2,935.7 L1315.1,935.0 L1317.0,934.3 L1318.8,933.6 L1320.7,932.9 L1322.6,932.2 L1324.4,931.5 L1326.3,930.8 L1328.2,930.1 L1330.1,929.4 L1331.9,928.6 L1333.8,927.9 L1335.7,927.2 L1337.5,926.5 L1339.4,925.7 L1341.3,925.0 L1343.1,924.3 L1345.0,923.5 L1346.8,922.8 L1348.7,922.1 L1350.6,921.3 L1352.4,920.6 L1354.3,919.8 L1356.1,919.1 L1358.0,918.3 L1359.8,917.6 L1361.7,916.8 L1363.5,916.1 L1365.4,915.3 L1367.2,914.5 L1369.1,913.8 L1370.9,913.0 L1372.8,912.2 L1374.6,911.5 L1376.5,910.7 L1378.3,909.9 L1380.2,909.1 L1382.0,908.3 L1383.8,907.5 L1385.7,906.8 L1387.5,906.0 L1389.3,905.2 L1391.2,904.4 L1393.0,903.6 L1394.8,902.8 L1396.7,902.0 L1398.5,901.1 L1400.3,900.3 L1402.1,899.5 L1404.0,898.7 L1405.8,897.9 L1407.6,897.0 L1409.4,896.2 L1411.2,895.4 L1413.1,894.6 L1414.9,893.7 L1416.7,892.9 L1418.5,892.0 L1420.3,891.2 L1422.1,890.3 L1423.9,889.5 L1425.7,888.6 L1427.5,887.8 L1429.3,886.9 L1431.1,886.0 L1432.9,885.2 L1434.7,884.3 L1436.5,883.4 L1438.3,882.6 L1440.1,881.7 L1441.9,880.8 L1443.7,879.9 L1445.5,879.0 L1447.3,878.1 L1449.0,877.2 L1450.8,876.3 L1452.6,875.4 L1454.4,874.5 L1456.2,873.6 L1457.9,872.7 L1459.7,871.8 L1461.5,870.8 L1463.2,869.9 L1465.0,869.0 L1466.8,868.0 L1468.5,867.1 L1470.3,866.2 L1472.1,865.2 L1473.8,864.3 L1475.6,863.3 L1477.3,862.4 L1479.1,861.4 L1480.8,860.4 L1482.6,859.5 L1484.3,858.5 L1486.1,857.5 L1487.8,856.5 L1489.5,855.6 L1491.3,854.6 L1493.0,853.6 L1494.7,852.6 L1496.5,851.6 L1498.2,850.6 L1499.9,849.6 L1501.6,848.6 L1503.4,847.5 L1505.1,846.5 L1506.8,845.5 L1508.5,844.5 L1510.2,843.4 L1511.9,842.4 L1513.6,841.4 L1515.3,840.3 L1517.0,839.3 L1518.7,838.2 L1520.4,837.2 L1522.1,836.1 L1523.8,835.0 L1525.5,834.0 L1527.2,832.9 L1528.9,831.8 L1530.6,830.7 L1532.3,829.6 L1533.9,828.6 L1535.6,827.5 L1537.3,826.4 L1538.9,825.3 L1540.6,824.2 L1542.3,823.0 L1543.9,821.9 L1545.6,820.8 L1547.3,819.7 L1548.9,818.5 L1550.6,817.4 L1552.2,816.3 L1553.9,815.1 L1555.5,814.0 L1557.1,812.8 L1558.8,811.7 L1560.4,810.5 L1562.1,809.4 L1563.7,808.2 L1565.3,807.0 L1566.9,805.9 L1568.6,804.7 L1570.2,803.5 L1571.8,802.3 L1573.4,801.1 L1575.0,799.9 L1576.6,798.7 L1578.2,797.5 L1579.8,796.3 L1581.4,795.1 L1583.0,793.9 L1584.6,792.7 L1586.2,791.4 L1587.8,790.2 L1589.3,789.0 L1590.9,787.7 L1592.5,786.5 L1594.1,785.2 L1595.6,784.0 L1597.2,782.7 L1598.7,781.5 L1600.3,780.2 L1601.9,778.9 L1603.4,777.7 L1605.0,776.4 L1606.5,775.1 L1608.0,773.8 L1609.6,772.6 L1611.1,771.3 L1612.6,770.0 L1614.2,768.7 L1615.7,767.4 L1617.2,766.1 L1618.7,764.8 L1620.2,763.4 L1621.7,762.1 L1623.2,760.8 L1624.7,759.5 L1626.2,758.1 L1627.7,756.8 L1629.2,755.5 L1630.7,754.1 L1632.2,752.8 L1633.7,751.4 L1635.1,750.1 L1636.6,748.7 L1638.1,747.3 L1639.5,746.0 L1641.0,744.6 L1642.4,743.2 L1643.9,741.8 L1645.3,740.5 L1646.8,739.1 L1648.2,737.7 L1649.7,736.3 L1651.1,734.9 L1652.5,733.5 L1653.9,732.1 L1655.3,730.7 L1656.8,729.3 L1658.2,727.8 L1659.6,726.4 L1661.0,725.0 L1662.4,723.6 L1663.8,722.1 L1665.2,720.7 L1666.5,719.2 L1667.9,717.8 L1669.3,716.3 L1670.7,714.9 L1672.0,713.4 L1673.4,712.0 L1674.7,710.5 L1676.1,709.0 L1677.5,707.5 L1678.8,706.1 L1680.1,704.6 L1681.5,703.1 L1682.8,701.6 L1684.1,700.1 L1685.4,698.6 L1686.8,697.1 L1688.1,695.6 L1689.4,694.1 L1690.7,692.6 L1692.0,691.1 L1693.3,689.5 L1694.6,688.0 L1695.8,686.5 L1697.1,685.0 L1698.4,683.4 L1699.7,681.9 L1700.9,680.3 L1702.2,678.8 L1703.5,677.2 L1704.7,675.7 L1705.9,674.1 L1707.2,672.6 L1708.4,671.0 L1709.7,669.4 L1710.9,667.8 L1712.1,666.3 L1713.3,664.7 L1714.5,663.1 L1715.7,661.5 L1716.9,659.9 L1718.1,658.3 L1719.3,656.7 L1720.5,655.1 L1721.7,653.5 L1722.9,651.9 L1724.0,650.3 L1725.2,648.7 L1726.4,647.0 L1727.5,645.4 L1728.7,643.8 L1729.8,642.2 L1731.0,640.5 L1732.1,638.9 L1733.3,637.2 L1734.4,635.6 L1735.5,633.9 L1736.6,632.3 L1737.8,630.6 L1738.9,629.0 L1740.0,627.3 L1741.1,625.7 L1742.2,624.0 L1743.3,622.3 L1744.4,620.6 L1745.5,619.0 L1746.5,617.3 L1747.6,615.6 L1748.7,613.9 L1749.8,612.2 L1750.8,610.5 L1751.9,608.8 L1752.9,607.1 L1754.0,605.4 L1755.0,603.7 L1756.1,602.0 L1757.1,600.3 L1758.2,598.6 L1759.2,596.9 L1760.2,595.2 L1761.2,593.5 L1762.2,591.7 L1763.3,590.0 L1764.3,588.3 L1765.3,586.6 L1766.3,584.8 L1767.3,583.1 L1768.3,581.3 L1769.3,579.6 L1770.2,577.9 L1771.2,576.1 L1772.2,574.4 L1773.2,572.6 L1774.1,570.9 L1775.1,569.1 L1776.1,567.3 L1777.0,565.6 L1778.0,563.8 L1778.9,562.1 L1779.9,560.3 L1780.8,558.5 L1781.7,556.7 L1782.7,555.0 L1783.6,553.2 L1784.5,551.4 L1785.4,549.6 L1786.4,547.9 L1787.3,546.1 L1788.2,544.3 L1789.1,542.5 L1790.0,540.7 L1790.9,538.9 L1791.8,537.1 L1792.7,535.3 L1793.6,533.5 L1794.4,531.7 L1795.3,529.9 L1796.2,528.1 L1797.1,526.3 L1797.9,524.5 L1798.8,522.7 L1799.7,520.9 L1800.5,519.0 L1801.4,517.2 L1802.2,515.4 L1803.1,513.6 L1803.9,511.8 L1804.8,509.9 L1805.6,508.1 L1806.4,506.3 L1807.3,504.5 L1808.1,502.6 L1808.9,500.8 L1809.7,499.0 L1810.5,497.1 L1811.4,495.3 L1812.2,493.5 L1813.0,491.6 L1813.8,489.8 L1814.6,487.9 L1815.4,486.1 L1816.2,484.2 L1817.0,482.4 L1817.7,480.6 L1818.5,478.7 L1819.3,476.9 L1820.1,475.0 L1820.8,473.2 L1821.6,471.3 L1822.4,469.4 L1823.1,467.6 L1823.9,465.7 L1824.7,463.9 L1825.4,462.0 L1826.2,460.2 L1826.9,458.3 L1827.7,456.4 L1828.4,454.6 L1829.1,452.7 L1829.9,450.8 L1830.6,449.0 L1831.3,447.1 L1832.1,445.2 L1832.8,443.4 L1833.5,441.5 L1834.2,439.6 L1834.9,437.8 L1835.6,435.9 L1836.3,434.0 L1837.0,432.1 L1837.8,430.3 L1838.5,428.4 L1839.1,426.5 L1839.8,424.6 L1840.5,422.8 L1841.2,420.9 L1841.9,419.0 L1842.6,417.1 L1843.3,415.2 L1843.9,413.4 L1844.6,411.5 L1845.3,409.6 L1846.0,407.7 L1846.6,405.8 L1847.3,403.9 L1847.9,402.1 L1848.6,400.2 L1849.3,398.3 L1849.9,396.4 L1850.6,394.5 L1851.2,392.6 L1851.9,390.7 L1852.5,388.8 L1853.1,386.9 L1853.8,385.1 L1854.4,383.2 L1855.0,381.3 L1855.7,379.4 L1856.3,377.5 L1856.9,375.6 L1857.5,373.7 L1858.2,371.8 L1858.8,369.9 L1859.4,368.0 L1860.0,366.1 L1860.6,364.2 L1861.2,362.3 L1861.9,360.4 L1862.5,358.5 L1863.1,356.6 L1863.7,354.7 L1864.3,352.8 L1864.9,350.9 L1865.5,349.0 L1866.0,347.1 L1866.6,345.2 L1867.2,343.3 L1867.8,341.4 L1868.4,339.5 L1869.0,337.6 L1869.6,335.6 L1870.1,333.7 L1870.7,331.8 L1871.3,329.9 L1871.9,328.0 L1872.4,326.1 L1873.0,324.2 L1873.6,322.3 L1874.2,320.4 L1874.7,318.5 L1875.3,316.5 L1875.8,314.6 L1876.4,312.7 L1877.0,310.8 L1877.5,308.9 L1878.1,307.0 L1878.6,305.0 L1879.2,303.1 L1879.7,301.2 L1880.3,299.3 L1880.8,297.4 L1881.4,295.4 L1881.9,293.5 L1882.5,291.6 L1883.0,289.7 L1883.5,287.8 L1884.1,285.8 L1884.6,283.9 L1885.1,282.0 L1885.7,280.1 L1886.2,278.1 L1886.7,276.2 L1887.3,274.3 L1887.8,272.4 L1888.3,270.4 L1888.9,268.5 L1889.4,266.6 L1889.9,264.7 L1890.4,262.7 L1891.0,260.8 L1891.5,258.9 L1892.0,256.9 L1892.5,255.0 L1893.0,253.1 L1893.5,251.1 L1894.1,249.2 L1894.6,247.3 L1895.1,245.4 L1895.6,243.4 L1896.1,241.5 L1896.6,239.5 L1897.1,237.6 L1897.6,235.7 L1898.2,233.7 L1898.7,231.8 L1899.2,229.9 L1899.7,227.9 L1900.2,226.0 L1900.7,224.1 L1901.2,222.1 L1901.7,220.2 L1902.2,218.2 L1902.7,216.3 L1903.2,214.4 L1903.7,212.4 L1904.2,210.5 L1904.7,208.5 L1905.2,206.6 L1905.7,204.7 L1906.2,202.7 L1906.7,200.8 L1907.2,198.8 L1907.7,196.9 L1908.2,194.9 L1908.6,193.0 L1909.1,191.0 L1909.6,189.1 L1910.1,187.2 L1910.6,185.2 L1911.1,183.3 L1911.6,181.3 L1912.1,179.4 L1912.6,177.4 L1913.1,175.5 L1913.6,173.5 L1914.1,171.6 L1914.3,170.6" fill="none" stroke="#EF4041" stroke-width="12" stroke-dasharray="49.1 66.2 46.1 66.2 48.1 63.3 43.2 55.7 41.4 60.1 46.0 55.8 36.3 49.1 36.9 48.9 55.8 46.9 39.0 49.0 42.0 51.1 41.1 50.0 41.0 53.9 41.9 19.0 47.0 55.1 44.1 55.0 45.9 58.9 42.0 63.1 49.2 63.2 48.0 63.8 48.9 65.0 49.2 2241.6"/>
<path d="M541.4,1370.4 L541.7,1368.4 L541.9,1366.4 L542.2,1364.4 L542.5,1362.4 L542.8,1360.4 L543.0,1358.4 L543.3,1356.4 L543.6,1354.4 L543.8,1352.4 L544.1,1350.5 L544.4,1348.5 L544.6,1346.5 L544.9,1344.5 L545.2,1342.5 L545.4,1340.5 L545.7,1338.5 L545.9,1336.5 L546.2,1334.5 L546.5,1332.5 L546.7,1330.5 L547.0,1328.6 L547.2,1326.6 L547.5,1324.6 L547.7,1322.6 L548.0,1320.6 L548.2,1318.6 L548.5,1316.6 L548.8,1314.6 L549.0,1312.7 L549.3,1310.7 L549.5,1308.7 L549.8,1306.7 L550.0,1304.7 L550.2,1302.7 L550.5,1300.8 L550.7,1298.8 L551.0,1296.8 L551.2,1294.8 L551.5,1292.8 L551.7,1290.8 L552.0,1288.8 L552.2,1286.9 L552.4,1284.9 L552.7,1282.9 L552.9,1280.9 L553.2,1278.9 L553.4,1277.0 L553.6,1275.0 L553.9,1273.0 L554.1,1271.0 L554.3,1269.0 L554.6,1267.0 L554.8,1265.1 L555.1,1263.1 L555.3,1261.1 L555.5,1259.1 L555.8,1257.1 L556.0,1255.2 L556.2,1253.2 L556.5,1251.2 L556.7,1249.2 L556.9,1247.2 L557.1,1245.3 L557.4,1243.3 L557.6,1241.3 L557.8,1239.3 L558.1,1237.4 L558.3,1235.4 L558.5,1233.4 L558.8,1231.4 L559.0,1229.4 L559.2,1227.5 L559.4,1225.5 L559.7,1223.5 L559.9,1221.5 L560.1,1219.5 L560.3,1217.6 L560.6,1215.6 L560.8,1213.6 L561.0,1211.6 L561.3,1209.6 L561.5,1207.7 L561.7,1205.7 L561.9,1203.7 L562.2,1201.7 L562.4,1199.8 L562.6,1197.8 L562.8,1195.8 L563.1,1193.8 L563.3,1191.8 L563.5,1189.9 L563.7,1187.9 L563.9,1185.9 L564.2,1183.9 L564.4,1181.9 L564.6,1180.0 L564.8,1178.0 L565.1,1176.0 L565.3,1174.0 L565.5,1172.0 L565.7,1170.1 L566.0,1168.1 L566.2,1166.1 L566.4,1164.1 L566.6,1162.1 L566.9,1160.2 L567.1,1158.2 L567.3,1156.2 L567.5,1154.2 L567.7,1152.2 L568.0,1150.3 L568.2,1148.3 L568.4,1146.3 L568.6,1144.3 L568.9,1142.3 L569.1,1140.3 L569.3,1138.4 L569.5,1136.4 L569.8,1134.4 L570.0,1132.4 L570.2,1130.4 L570.4,1128.4 L570.7,1126.5 L570.9,1124.5 L571.1,1122.5 L571.4,1120.5 L571.6,1118.5 L571.8,1116.5 L572.0,1114.5 L572.3,1112.6 L572.5,1110.6 L572.7,1108.6 L572.9,1106.6 L573.2,1104.6 L573.4,1102.6 L573.6,1100.6 L573.9,1098.6 L574.1,1096.7 L574.3,1094.7 L574.6,1092.7 L574.8,1090.7 L575.0,1088.7 L575.2,1086.7 L575.5,1084.7 L575.7,1082.7 L575.9,1080.7 L576.2,1078.7 L576.4,1076.7 L576.7,1074.8 L576.9,1072.8 L577.1,1070.8 L577.4,1068.8 L577.6,1066.8 L577.8,1064.8 L578.1,1062.8 L578.3,1060.8 L578.5,1058.8 L578.8,1056.8 L579.0,1054.8 L579.3,1052.8 L579.5,1050.8 L579.8,1048.8 L580.0,1046.8 L580.2,1044.8 L580.5,1042.8 L580.7,1040.8 L581.0,1038.8 L581.2,1036.8 L581.5,1034.8 L581.7,1032.8 L582.0,1030.8 L582.2,1028.8 L582.5,1026.8 L582.7,1024.8 L583.0,1022.8 L583.2,1020.8 L583.5,1018.8 L583.7,1016.8 L584.0,1014.8 L584.2,1012.8 L584.5,1010.8 L584.8,1008.8 L585.0,1006.8 L585.3,1004.8 L585.5,1002.8 L585.8,1000.8 L586.1,998.8 L586.3,996.8 L586.6,994.8 L586.8,992.8 L587.1,990.8 L587.4,988.8 L587.7,986.8 L587.9,984.8 L588.2,982.8 L588.5,980.8 L588.7,978.8 L589.0,976.8 L589.3,974.8 L589.6,972.8 L589.9,970.8 L590.1,968.9 L590.4,966.9 L590.7,964.9 L591.0,962.9 L591.3,960.9 L591.6,958.9 L591.8,957.0 L592.1,955.0 L592.4,953.0 L592.7,951.0 L593.0,949.0 L593.3,947.1 L593.6,945.1 L593.9,943.1 L594.2,941.2 L594.5,939.2 L594.8,937.2 L595.1,935.3 L595.4,933.3 L595.7,931.3 L596.1,929.4 L596.4,927.4 L596.7,925.5 L597.0,923.5 L597.3,921.6 L597.6,919.6 L598.0,917.7 L598.3,915.7 L598.6,913.8 L598.9,911.8 L599.3,909.9 L599.6,908.0 L599.9,906.0 L600.3,904.1 L600.6,902.2 L600.9,900.2 L601.3,898.3 L601.6,896.4 L602.0,894.5 L602.3,892.6 L602.6,890.7 L603.0,888.7 L603.4,886.8 L603.7,884.9 L604.1,883.0 L604.4,881.1 L604.8,879.2 L605.1,877.3 L605.5,875.4 L605.9,873.5 L606.3,871.6 L606.6,869.7 L607.0,867.8 L607.4,865.8 L607.8,863.9 L608.2,862.0 L608.6,860.1 L609.0,858.2 L609.4,856.2 L609.8,854.3 L610.2,852.4 L610.6,850.4 L611.0,848.5 L611.4,846.5 L611.9,844.6 L612.3,842.6 L612.7,840.6 L613.2,838.6 L613.6,836.7 L614.1,834.7 L614.5,832.7 L615.0,830.6 L615.5,828.6 L615.9,826.6 L616.4,824.6 L616.9,822.5 L617.4,820.4 L617.9,818.4 L618.4,816.3 L618.9,814.2 L619.4,812.1 L619.9,810.0 L620.4,807.8 L620.9,805.7 L621.5,803.5 L622.0,801.4 L622.6,799.2 L623.1,797.0 L623.7,794.8 L624.3,792.6 L624.8,790.3 L625.4,788.1 L626.0,785.8 L626.6,783.6 L627.3,781.4 L627.9,779.2 L628.6,777.0 L629.3,775.0 L630.1,772.9 L630.9,771.0 L631.7,769.1 L632.6,767.3 L633.5,765.6 L634.5,764.0 L635.5,762.5 L636.6,761.2 L637.8,760.0 L639.0,759.0 L640.3,758.1 L641.7,757.4 L643.1,756.8 L644.6,756.5 L646.2,756.2 L647.8,756.2 L649.4,756.2 L651.1,756.5 L652.8,756.8 L654.5,757.3 L656.2,758.0 L657.9,758.7 L659.6,759.5 L661.3,760.5 L663.0,761.5 L664.6,762.5 L666.1,763.6 L667.7,764.7 L669.2,765.9 L670.6,767.1 L672.0,768.4 L673.4,769.7 L674.7,771.0 L676.0,772.4 L677.3,773.8 L678.5,775.2 L679.7,776.7 L680.8,778.2 L682.0,779.7 L683.1,781.3 L684.1,782.9 L685.2,784.5 L686.2,786.1 L687.2,787.8 L688.2,789.5 L689.1,791.2 L690.1,793.0 L691.0,794.7 L691.9,796.5 L692.7,798.3 L693.6,800.2 L694.4,802.0 L695.2,803.9 L696.0,805.8 L696.8,807.7 L697.6,809.6 L698.4,811.5 L699.1,813.4 L699.9,815.4 L700.6,817.3 L701.3,819.3 L702.1,821.3 L702.8,823.3 L703.5,825.2 L704.2,827.2 L704.9,829.2 L705.7,831.2 L706.4,833.2 L707.1,835.2 L707.8,837.3 L708.5,839.3 L709.3,841.3 L710.0,843.3 L710.8,845.3 L711.5,847.2 L712.3,849.2 L713.0,851.2 L713.8,853.2 L714.6,855.1 L715.4,857.1 L716.2,859.0 L717.1,861.0 L717.9,862.9 L718.8,864.8 L719.7,866.7 L720.6,868.6 L721.6,870.4 L722.5,872.2 L723.5,874.1 L724.5,875.9 L725.5,877.6 L726.6,879.4 L727.6,881.1 L728.8,882.9 L729.9,884.6 L731.0,886.2 L732.2,887.9 L733.4,889.5 L734.6,891.1 L735.8,892.7 L737.1,894.3 L738.4,895.8 L739.7,897.3 L741.0,898.8 L742.4,900.3 L743.7,901.7 L745.1,903.2 L746.5,904.6 L748.0,905.9 L749.4,907.3 L750.9,908.6 L752.4,909.9 L753.9,911.1 L755.4,912.4 L756.9,913.6 L758.5,914.8 L760.1,915.9 L761.7,917.0 L763.3,918.1 L764.9,919.2 L766.6,920.2 L768.2,921.3 L769.9,922.2 L771.6,923.2 L773.3,924.1 L775.1,925.0 L776.8,925.9 L778.6,926.7 L780.3,927.5 L782.1,928.3 L783.9,929.0 L785.7,929.7 L787.6,930.4 L789.4,931.0 L791.3,931.6 L793.2,932.2 L795.0,932.7 L796.9,933.2 L798.8,933.7 L800.8,934.1 L802.7,934.5 L804.6,934.9 L806.6,935.3 L808.6,935.6 L810.5,935.9 L812.5,936.1 L814.5,936.3 L816.5,936.5 L818.5,936.7 L820.5,936.9 L822.5,937.0 L824.5,937.1 L826.6,937.2 L828.6,937.2 L830.6,937.2 L832.7,937.3 L834.7,937.2 L836.7,937.2 L838.8,937.2 L840.8,937.1 L842.8,937.0 L844.9,937.0 L846.9,936.9 L849.0,936.7 L851.0,936.6 L853.0,936.5 L855.0,936.3 L857.1,936.1 L859.1,936.0 L861.1,935.8 L863.1,935.6 L865.1,935.3 L867.1,935.1 L869.1,934.9 L871.1,934.6 L873.1,934.4 L875.1,934.1 L877.1,933.8 L879.1,933.5 L881.1,933.2 L883.1,932.9 L885.1,932.6 L887.1,932.3 L889.0,931.9 L891.0,931.6 L893.0,931.2 L895.0,930.8 L896.9,930.4 L898.9,930.0 L900.9,929.6 L902.8,929.2 L904.8,928.8 L906.7,928.4 L908.7,927.9 L910.6,927.5 L912.6,927.0 L914.5,926.6 L916.5,926.1 L918.4,925.6 L920.4,925.1 L922.3,924.6 L924.2,924.1 L926.2,923.6 L928.1,923.1 L930.0,922.6 L932.0,922.0 L933.9,921.5 L935.8,920.9 L937.7,920.4 L939.7,919.8 L941.6,919.2 L943.5,918.7 L945.4,918.1 L947.3,917.5 L949.2,916.9 L951.1,916.3 L953.1,915.7 L955.0,915.1 L956.9,914.4 L958.8,913.8 L960.7,913.2 L962.6,912.5 L964.5,911.9 L966.3,911.2 L968.2,910.6 L970.1,909.9 L972.0,909.3 L973.9,908.6 L975.8,907.9 L977.7,907.2 L979.6,906.6 L981.4,905.9 L983.3,905.2 L985.2,904.5 L987.1,903.8 L988.9,903.1 L990.8,902.4 L992.7,901.7 L994.5,900.9 L996.4,900.2 L998.3,899.5 L1000.1,898.8 L1002.0,898.0 L1003.9,897.3 L1005.7,896.6 L1007.6,895.8 L1009.4,895.1 L1011.3,894.3 L1013.1,893.6 L1015.0,892.8 L1016.8,892.0 L1018.7,891.3 L1020.5,890.5 L1022.4,889.7 L1024.2,888.9 L1026.1,888.2 L1027.9,887.4 L1029.7,886.6 L1031.6,885.8 L1033.4,885.0 L1035.2,884.2 L1037.1,883.4 L1038.9,882.6 L1040.7,881.7 L1042.6,880.9 L1044.4,880.1 L1046.2,879.3 L1048.0,878.4 L1049.8,877.6 L1051.7,876.8 L1053.5,875.9 L1055.3,875.1 L1057.1,874.2 L1058.9,873.4 L1060.7,872.5 L1062.5,871.7 L1064.3,870.8 L1066.1,869.9 L1067.9,869.1 L1069.7,868.2 L1071.5,867.3 L1073.3,866.4 L1075.1,865.5 L1076.9,864.6 L1078.7,863.7 L1080.5,862.8 L1082.2,861.9 L1084.0,861.0 L1085.8,860.1 L1087.6,859.2 L1089.4,858.3 L1091.1,857.4 L1092.9,856.4 L1094.7,855.5 L1096.5,854.6 L1098.2,853.6 L1100.0,852.7 L1101.8,851.8 L1103.5,850.8 L1105.3,849.9 L1107.0,848.9 L1108.8,847.9 L1110.5,847.0 L1112.3,846.0 L1114.0,845.0 L1115.8,844.1 L1117.5,843.1 L1119.3,842.1 L1121.0,841.1 L1122.8,840.1 L1124.5,839.2 L1126.2,838.2 L1128.0,837.2 L1129.7,836.2 L1131.4,835.2 L1133.2,834.1 L1134.9,833.1 L1136.6,832.1 L1138.3,831.1 L1140.0,830.1 L1141.8,829.0 L1143.5,828.0 L1145.2,827.0 L1146.9,825.9 L1148.6,824.9 L1150.3,823.9 L1152.0,822.8 L1153.7,821.8 L1155.4,820.7 L1157.1,819.6 L1158.8,818.6 L1160.5,817.5 L1162.2,816.5 L1163.9,815.4 L1165.6,814.3 L1167.3,813.2 L1168.9,812.1 L1170.6,811.1 L1172.3,810.0 L1174.0,808.9 L1175.6,807.8 L1177.3,806.7 L1179.0,805.6 L1180.7,804.5 L1182.3,803.4 L1184.0,802.2 L1185.6,801.1 L1187.3,800.0 L1189.0,798.9 L1190.6,797.8 L1192.3,796.6 L1193.9,795.5 L1195.6,794.4 L1197.2,793.2 L1198.8,792.1 L1200.5,790.9 L1202.1,789.8 L1203.8,788.6 L1205.4,787.5 L1207.0,786.3 L1208.6,785.1 L1210.3,784.0 L1211.9,782.8 L1213.5,781.6 L1215.1,780.5 L1216.8,779.3 L1218.4,778.1 L1220.0,776.9 L1221.6,775.7 L1223.2,774.5 L1224.8,773.3 L1226.4,772.1 L1228.0,770.9 L1229.6,769.7 L1231.2,768.5 L1232.8,767.3 L1234.4,766.1 L1236.0,764.9 L1237.5,763.6 L1239.1,762.4 L1240.7,761.2 L1242.3,760.0 L1243.9,758.7 L1245.4,757.5 L1247.0,756.3 L1248.6,755.0 L1250.1,753.8 L1251.7,752.5 L1253.3,751.3 L1254.8,750.0 L1256.4,748.7 L1257.9,747.5 L1259.5,746.2 L1261.0,744.9 L1262.6,743.7 L1264.1,742.4 L1265.7,741.1 L1267.2,739.8 L1268.7,738.6 L1270.3,737.3 L1271.8,736.0 L1273.3,734.7 L1274.8,733.4 L1276.4,732.1 L1277.9,730.8 L1279.4,729.5 L1280.9,728.2 L1282.4,726.9 L1283.9,725.5 L1285.4,724.2 L1287.0,722.9 L1288.5,721.6 L1290.0,720.3 L1291.4,718.9 L1292.9,717.6 L1294.4,716.3 L1295.9,714.9 L1297.4,713.6 L1298.9,712.2 L1300.4,710.9 L1301.8,709.5 L1303.3,708.2 L1304.8,706.8 L1306.3,705.5 L1307.7,704.1 L1309.2,702.7 L1310.7,701.4 L1312.1,700.0 L1313.6,698.6 L1315.0,697.3 L1316.5,695.9 L1317.9,694.5 L1319.4,693.1 L1320.8,691.7 L1322.2,690.3 L1323.7,688.9 L1325.1,687.5 L1326.5,686.1 L1328.0,684.7 L1329.4,683.3 L1330.8,681.9 L1332.2,680.5 L1333.7,679.1 L1335.1,677.7 L1336.5,676.3 L1337.9,674.9 L1339.3,673.4 L1340.7,672.0 L1342.1,670.6 L1343.5,669.1 L1344.9,667.7 L1346.3,666.3 L1347.7,664.8 L1349.1,663.4 L1350.4,661.9 L1351.8,660.5 L1353.2,659.0 L1354.6,657.6 L1355.9,656.1 L1357.3,654.7 L1358.7,653.2 L1360.0,651.7 L1361.4,650.3 L1362.8,648.8 L1364.1,647.3 L1365.5,645.8 L1366.8,644.4 L1368.2,642.9 L1369.5,641.4 L1370.8,639.9 L1372.2,638.4 L1373.5,636.9 L1374.8,635.4 L1376.2,633.9 L1377.5,632.4 L1378.8,630.9 L1380.1,629.4 L1381.4,627.9 L1382.7,626.4 L1384.1,624.9 L1385.4,623.4 L1386.7,621.9 L1388.0,620.4 L1389.3,618.8 L1390.5,617.3 L1391.8,615.8 L1393.1,614.2 L1394.4,612.7 L1395.7,611.2 L1397.0,609.6 L1398.2,608.1 L1399.5,606.6 L1400.8,605.0 L1402.0,603.5 L1403.3,601.9 L1404.6,600.4 L1405.8,598.8 L1407.1,597.2 L1408.3,595.7 L1409.6,594.1 L1410.8,592.6 L1412.1,591.0 L1413.3,589.4 L1414.5,587.8 L1415.8,586.3 L1417.0,584.7 L1418.2,583.1 L1419.4,581.5 L1420.7,579.9 L1421.9,578.4 L1423.1,576.8 L1424.3,575.2 L1425.5,573.6 L1426.7,572.0 L1427.9,570.4 L1429.1,568.8 L1430.3,567.2 L1431.5,565.6 L1432.7,564.0 L1433.9,562.4 L1435.0,560.8 L1436.2,559.1 L1437.4,557.5 L1438.6,555.9 L1439.7,554.3 L1440.9,552.7 L1442.1,551.0 L1443.2,549.4 L1444.4,547.8 L1445.5,546.1 L1446.7,544.5 L1447.8,542.9 L1449.0,541.2 L1450.1,539.6 L1451.3,538.0 L1452.4,536.3 L1453.5,534.7 L1454.7,533.0 L1455.8,531.4 L1456.9,529.7 L1458.0,528.0 L1459.2,526.4 L1460.3,524.7 L1461.4,523.1 L1462.5,521.4 L1463.6,519.7 L1464.7,518.1 L1465.8,516.4 L1466.9,514.7 L1468.0,513.1 L1469.1,511.4 L1470.2,509.7 L1471.3,508.0 L1472.4,506.3 L1473.4,504.7 L1474.5,503.0 L1475.6,501.3 L1476.7,499.6 L1477.7,497.9 L1478.8,496.2 L1479.9,494.5 L1480.9,492.8 L1482.0,491.1 L1483.0,489.4 L1484.1,487.7 L1485.1,486.0 L1486.2,484.3 L1487.2,482.6 L1488.3,480.9 L1489.3,479.2 L1490.3,477.5 L1491.4,475.7 L1492.4,474.0 L1493.4,472.3 L1494.4,470.6 L1495.5,468.9 L1496.5,467.1 L1497.5,465.4 L1498.5,463.7 L1499.5,462.0 L1500.5,460.2 L1501.5,458.5 L1502.5,456.8 L1503.5,455.0 L1504.5,453.3 L1505.5,451.5 L1506.5,449.8 L1507.5,448.1 L1508.5,446.3 L1509.4,444.6 L1510.4,442.8 L1511.4,441.1 L1512.4,439.3 L1513.3,437.6 L1514.3,435.8 L1515.3,434.0 L1516.2,432.3 L1517.2,430.5 L1518.1,428.8 L1519.1,427.0 L1520.0,425.2 L1521.0,423.5 L1521.9,421.7 L1522.9,419.9 L1523.8,418.2 L1524.8,416.4 L1525.7,414.6 L1526.6,412.8 L1527.5,411.1 L1528.5,409.3 L1529.4,407.5 L1530.3,405.7 L1531.2,403.9 L1532.1,402.2 L1533.1,400.4 L1534.0,398.6 L1534.9,396.8 L1535.8,395.0 L1536.7,393.2 L1537.6,391.4 L1538.5,389.6 L1539.4,387.8 L1540.3,386.0 L1541.2,384.3 L1542.0,382.5 L1542.9,380.7 L1543.8,378.9 L1544.7,377.0 L1545.6,375.2 L1546.4,373.4 L1547.3,371.6 L1548.2,369.8 L1549.0,368.0 L1549.9,366.2 L1550.7,364.4 L1551.6,362.6 L1552.5,360.8 L1553.3,359.0 L1554.2,357.1 L1555.0,355.3 L1555.8,353.5 L1556.7,351.7 L1557.5,349.9 L1558.4,348.0 L1559.2,346.2 L1560.0,344.4 L1560.9,342.6 L1561.7,340.7 L1562.5,338.9 L1563.3,337.1 L1564.1,335.2 L1565.0,333.4 L1565.8,331.6 L1566.6,329.7 L1567.4,327.9 L1568.2,326.1 L1569.0,324.2 L1569.8,322.4 L1570.6,320.6 L1571.4,318.7 L1572.2,316.9 L1573.0,315.0 L1573.8,313.2 L1574.6,311.4 L1575.3,309.5 L1576.1,307.7 L1576.9,305.8 L1577.7,304.0 L1578.4,302.1 L1579.2,300.3 L1580.0,298.4 L1580.7,296.6 L1581.5,294.7 L1582.3,292.9 L1583.0,291.0 L1583.8,289.2 L1584.5,287.3 L1585.3,285.4 L1586.0,283.6 L1586.8,281.7 L1587.5,279.9 L1588.3,278.0 L1589.0,276.1 L1589.7,274.3 L1590.5,272.4 L1591.2,270.6 L1591.9,268.7 L1592.7,266.8 L1593.4,265.0 L1594.1,263.1 L1594.8,261.2 L1595.5,259.4 L1596.3,257.5 L1597.0,255.6 L1597.7,253.7 L1598.4,251.9 L1599.1,250.0 L1599.8,248.1 L1600.5,246.3 L1601.2,244.4 L1601.9,242.5 L1602.6,240.6 L1603.3,238.8 L1604.0,236.9 L1604.6,235.0 L1605.3,233.1 L1606.0,231.3 L1606.7,229.4 L1607.4,227.5 L1608.0,225.6 L1608.7,223.7 L1609.4,221.9 L1610.0,220.0 L1610.7,218.1 L1611.4,216.2 L1612.0,214.3 L1612.7,212.4 L1613.3,210.6 L1614.0,208.7 L1614.6,206.8 L1615.3,204.9 L1615.9,203.0 L1616.6,201.1 L1617.2,199.2 L1617.9,197.4 L1618.5,195.5 L1619.1,193.6 L1619.8,191.7 L1620.4,189.8 L1621.0,187.9 L1621.7,186.0 L1622.3,184.1 L1622.9,182.2 L1623.5,180.4 L1624.1,178.5 L1624.8,176.6 L1625.4,174.7 L1626.0,172.8 L1626.6,170.9 L1627.2,169.0" fill="none" stroke="#1B70DF" stroke-width="12" stroke-dasharray="19.1 38.1 20.0 31.9 20.0 30.8 20.0 31.8 20.0 32.9 20.0 30.2 20.0 31.4 20.0 32.2 20.0 33.2 20.0 31.0 20.0 30.3 20.0 28.4 17.1 25.0 20.0 32.7 20.0 30.7 20.0 27.2 20.0 30.8 20.0 32.4 20.0 26.4 20.0 28.1 20.0 23.0 20.0 27.0 33.0 24.0 20.0 25.0 20.0 24.0 20.0 26.0 20.0 27.0 20.0 27.0 20.0 30.0 20.0 28.0 20.0 27.0 20.0 29.0 20.0 26.0 20.0 28.0 20.0 29.0 20.0 30.1 20.0 8.1 20.0 29.1 20.0 32.1 20.0 33.1 20.0 31.0 20.0 31.9 18.9 2179.2"/>
<path d="M541.4,1370.4 L541.6,1368.4 L541.7,1366.4 L541.9,1364.4 L542.0,1362.4 L542.2,1360.4 L542.3,1358.4 L542.5,1356.4 L542.7,1354.4 L542.8,1352.4 L543.0,1350.4 L543.1,1348.4 L543.3,1346.4 L543.4,1344.4 L543.6,1342.5 L543.8,1340.5 L543.9,1338.5 L544.1,1336.5 L544.2,1334.5 L544.4,1332.5 L544.5,1330.5 L544.7,1328.5 L544.9,1326.5 L545.0,1324.5 L545.2,1322.5 L545.3,1320.5 L545.5,1318.5 L545.6,1316.5 L545.8,1314.5 L545.9,1312.5 L546.1,1310.5 L546.3,1308.5 L546.4,1306.5 L546.6,1304.5 L546.7,1302.5 L546.9,1300.5 L547.0,1298.5 L547.2,1296.5 L547.3,1294.5 L547.5,1292.5 L547.7,1290.5 L547.8,1288.5 L548.0,1286.5 L548.1,1284.5 L548.3,1282.5 L548.4,1280.6 L548.6,1278.6 L548.7,1276.6 L548.9,1274.6 L549.1,1272.6 L549.2,1270.6 L549.4,1268.6 L549.5,1266.6 L549.7,1264.6 L549.8,1262.6 L550.0,1260.6 L550.1,1258.6 L550.3,1256.6 L550.4,1254.6 L550.6,1252.6 L550.8,1250.6 L550.9,1248.6 L551.1,1246.6 L551.2,1244.6 L551.4,1242.6 L551.5,1240.6 L551.7,1238.6 L551.8,1236.6 L552.0,1234.6 L552.1,1232.6 L552.3,1230.6 L552.5,1228.6 L552.6,1226.6 L552.8,1224.6 L552.9,1222.6 L553.1,1220.6 L553.2,1218.6 L553.4,1216.6 L553.5,1214.6 L553.7,1212.6 L553.8,1210.6 L554.0,1208.7 L554.2,1206.7 L554.3,1204.7 L554.5,1202.7 L554.6,1200.7 L554.8,1198.7 L554.9,1196.7 L555.1,1194.7 L555.2,1192.7 L555.4,1190.7 L555.5,1188.7 L555.7,1186.7 L555.9,1184.7 L556.0,1182.7 L556.2,1180.7 L556.3,1178.7 L556.5,1176.7 L556.6,1174.7 L556.8,1172.7 L556.9,1170.7 L557.1,1168.7 L557.3,1166.7 L557.4,1164.7 L557.6,1162.7 L557.7,1160.7 L557.9,1158.7 L558.0,1156.7 L558.2,1154.7 L558.3,1152.7 L558.5,1150.7 L558.6,1148.7 L558.8,1146.7 L559.0,1144.7 L559.1,1142.7 L559.3,1140.7 L559.4,1138.7 L559.6,1136.7 L559.7,1134.7 L559.9,1132.7 L560.0,1130.7 L560.2,1128.7 L560.4,1126.8 L560.5,1124.8 L560.7,1122.8 L560.8,1120.8 L561.0,1118.8 L561.1,1116.8 L561.3,1114.8 L561.5,1112.8 L561.6,1110.8 L561.8,1108.8 L561.9,1106.8 L562.1,1104.8 L562.2,1102.8 L562.4,1100.8 L562.5,1098.8 L562.7,1096.8 L562.9,1094.8 L563.0,1092.8 L563.2,1090.8 L563.3,1088.8 L563.5,1086.8 L563.7,1084.8 L563.8,1082.8 L564.0,1080.8 L564.1,1078.8 L564.3,1076.8 L564.4,1074.8 L564.6,1072.8 L564.8,1070.8 L564.9,1068.8 L565.1,1066.8 L565.2,1064.8 L565.4,1062.8 L565.5,1060.8 L565.7,1058.8 L565.9,1056.8 L566.0,1054.8 L566.2,1052.8 L566.3,1050.8 L566.5,1048.9 L566.7,1046.9 L566.8,1044.9 L567.0,1042.9 L567.1,1040.9 L567.3,1038.9 L567.5,1036.9 L567.6,1034.9 L567.8,1032.9 L567.9,1030.9 L568.1,1028.9 L568.3,1026.9 L568.4,1024.9 L568.6,1022.9 L568.7,1020.9 L568.9,1018.9 L569.1,1016.9 L569.2,1014.9 L569.4,1012.9 L569.6,1010.9 L569.7,1008.9 L569.9,1006.9 L570.0,1004.9 L570.2,1002.9 L570.4,1000.9 L570.5,998.9 L570.7,996.9 L570.8,994.9 L571.0,992.9 L571.2,990.9 L571.3,988.9 L571.5,986.9 L571.7,984.9 L571.8,982.9 L572.0,981.0 L572.2,979.0 L572.3,977.0 L572.5,975.0 L572.7,973.0 L572.8,971.0 L573.0,969.0 L573.1,967.0 L573.3,965.0 L573.5,963.0 L573.6,961.0 L573.8,959.0 L574.0,957.0 L574.1,955.0 L574.3,953.0 L574.5,951.0 L574.6,949.0 L574.8,947.0 L575.0,945.0 L575.1,943.0 L575.3,941.0 L575.5,939.0 L575.6,937.0 L575.8,935.0 L576.0,933.0 L576.1,931.0 L576.3,929.0 L576.5,927.0 L576.6,925.0 L576.8,923.1 L577.0,921.1 L577.2,919.1 L577.3,917.1 L577.5,915.1 L577.7,913.1 L577.8,911.1 L578.0,909.1 L578.2,907.1 L578.3,905.1 L578.5,903.1 L578.7,901.1 L578.9,899.1 L579.0,897.1 L579.2,895.1 L579.4,893.1 L579.5,891.1 L579.7,889.1 L579.9,887.1 L580.1,885.1 L580.2,883.1 L580.4,881.1 L580.6,879.1 L580.8,877.1 L580.9,875.2 L581.1,873.2 L581.3,871.2 L581.5,869.2 L581.6,867.2 L581.8,865.2 L582.0,863.2 L582.2,861.2 L582.3,859.2 L582.5,857.2 L582.7,855.2 L582.9,853.2 L583.0,851.2 L583.2,849.2 L583.4,847.2 L583.6,845.2 L583.7,843.2 L583.9,841.2 L584.1,839.2 L584.3,837.2 L584.5,835.3 L584.6,833.3 L584.8,831.3 L585.0,829.3 L585.2,827.3 L585.4,825.3 L585.5,823.3 L585.7,821.3 L585.9,819.3 L586.1,817.3 L586.3,815.3 L586.4,813.3 L586.6,811.3 L586.8,809.3 L587.0,807.3 L587.2,805.3 L587.4,803.3 L587.5,801.3 L587.7,799.4 L587.9,797.4 L588.1,795.4 L588.3,793.4 L588.5,791.4 L588.6,789.4 L588.8,787.4 L589.0,785.4 L589.2,783.4 L589.4,781.4 L589.6,779.4 L589.8,777.4 L589.9,775.4 L590.1,773.4 L590.3,771.4 L590.5,769.4 L590.7,767.5 L590.9,765.5 L591.1,763.5 L591.3,761.5 L591.5,759.5 L591.6,757.5 L591.8,755.5 L592.0,753.5 L592.2,751.5 L592.4,749.5 L592.6,747.5 L592.8,745.5 L593.0,743.5 L593.2,741.5 L593.4,739.5 L593.6,737.6 L593.7,735.6 L593.9,733.6 L594.1,731.6 L594.3,729.6 L594.5,727.6 L594.7,725.6 L594.9,723.6 L595.1,721.6 L595.3,719.6 L595.5,717.6 L595.7,715.6 L595.9,713.6 L596.1,711.7 L596.3,709.7 L596.5,707.7 L596.7,705.7 L596.9,703.7 L597.1,701.7 L597.3,699.7 L597.5,697.7 L597.7,695.7 L597.9,693.7 L598.1,691.7 L598.3,689.8 L598.6,687.8 L598.8,685.8 L599.0,683.8 L599.2,681.8 L599.4,679.8 L599.6,677.8 L599.9,675.8 L600.1,673.8 L600.3,671.8 L600.5,669.9 L600.7,667.9 L601.0,665.9 L601.2,663.9 L601.4,661.9 L601.7,659.9 L601.9,657.9 L602.1,655.9 L602.4,653.9 L602.6,652.0 L602.8,650.0 L603.1,648.0 L603.3,646.0 L603.6,644.0 L603.8,642.0 L604.1,640.0 L604.3,638.1 L604.6,636.1 L604.8,634.1 L605.1,632.1 L605.4,630.1 L605.6,628.1 L605.9,626.1 L606.2,624.2 L606.4,622.2 L606.7,620.2 L607.0,618.2 L607.3,616.2 L607.5,614.2 L607.8,612.3 L608.1,610.3 L608.4,608.3 L608.7,606.3 L609.0,604.3 L609.3,602.4 L609.6,600.4 L609.9,598.4 L610.2,596.4 L610.5,594.4 L610.8,592.5 L611.1,590.5 L611.5,588.5 L611.8,586.5 L612.1,584.5 L612.4,582.6 L612.8,580.6 L613.1,578.6 L613.4,576.6 L613.8,574.7 L614.1,572.7 L614.5,570.7 L614.8,568.7 L615.2,566.8 L615.5,564.8 L615.9,562.8 L616.3,560.8 L616.6,558.9 L617.0,556.9 L617.4,554.9 L617.8,552.9 L618.1,551.0 L618.5,549.0 L618.9,547.0 L619.3,545.1 L619.7,543.1 L620.1,541.1 L620.5,539.1 L620.9,537.2 L621.4,535.2 L621.8,533.2 L622.2,531.3 L622.6,529.3 L623.1,527.3 L623.5,525.4 L623.9,523.4 L624.4,521.4 L624.8,519.5 L625.3,517.5 L625.7,515.5 L626.2,513.6 L626.7,511.6 L627.1,509.7 L627.6,507.7 L628.1,505.7 L628.6,503.8 L629.1,501.8 L629.6,499.9 L630.1,497.9 L630.6,495.9 L631.1,494.0 L631.6,492.0 L632.2,490.1 L632.8,488.2 L633.4,486.4 L634.1,484.6 L634.9,482.8 L635.8,481.2 L636.8,479.6 L637.9,478.1 L639.1,476.7 L640.5,475.4 L642.0,474.3 L643.6,473.2 L645.4,472.4 L647.5,471.7 L649.6,471.2 L651.6,471.6 L653.0,473.0 L654.4,474.3 L655.7,475.8 L657.0,477.2 L658.2,478.7 L659.4,480.3 L660.5,481.9 L661.6,483.5 L662.6,485.2 L663.6,486.9 L664.6,488.6 L665.5,490.4 L666.4,492.1 L667.2,493.9 L668.0,495.8 L668.8,497.6 L669.6,499.5 L670.3,501.3 L671.1,503.2 L671.8,505.1 L672.5,507.0 L673.2,508.9 L673.9,510.8 L674.6,512.6 L675.2,514.5 L675.9,516.4 L676.6,518.3 L677.2,520.2 L677.9,522.1 L678.5,524.0 L679.1,526.0 L679.8,527.9 L680.4,529.8 L681.0,531.7 L681.6,533.6 L682.2,535.5 L682.8,537.4 L683.4,539.3 L684.0,541.2 L684.5,543.2 L685.1,545.1 L685.7,547.0 L686.3,548.9 L686.8,550.8 L687.4,552.8 L687.9,554.7 L688.5,556.6 L689.0,558.5 L689.5,560.5 L690.1,562.4 L690.6,564.3 L691.1,566.3 L691.6,568.2 L692.2,570.1 L692.7,572.1 L693.2,574.0 L693.7,575.9 L694.2,577.9 L694.7,579.8 L695.2,581.7 L695.7,583.7 L696.2,585.6 L696.7,587.5 L697.2,589.5 L697.6,591.4 L698.1,593.4 L698.6,595.3 L699.1,597.2 L699.6,599.2 L700.0,601.1 L700.5,603.1 L701.0,605.0 L701.5,607.0 L701.9,608.9 L702.4,610.8 L702.9,612.8 L703.4,614.7 L703.8,616.7 L704.3,618.6 L704.8,620.6 L705.3,622.5 L705.7,624.5 L706.2,626.4 L706.7,628.3 L707.1,630.3 L707.6,632.2 L708.1,634.2 L708.6,636.1 L709.0,638.1 L709.5,640.0 L710.0,642.0 L710.5,643.9 L711.0,645.9 L711.5,647.8 L711.9,649.7 L712.4,651.7 L712.9,653.6 L713.4,655.6 L713.9,657.5 L714.4,659.5 L714.9,661.4 L715.4,663.4 L715.9,665.3 L716.4,667.2 L716.9,669.2 L717.5,671.1 L718.0,673.1 L718.5,675.0 L719.0,676.9 L719.6,678.9 L720.1,680.8 L720.6,682.8 L721.2,684.7 L721.7,686.6 L722.3,688.6 L722.8,690.5 L723.4,692.5 L724.0,694.4 L724.6,696.3 L725.1,698.2 L725.7,700.2 L726.3,702.1 L726.9,704.0 L727.5,705.9 L728.2,707.9 L728.8,709.8 L729.4,711.7 L730.1,713.6 L730.7,715.5 L731.4,717.4 L732.1,719.3 L732.8,721.2 L733.5,723.0 L734.2,724.9 L734.9,726.8 L735.7,728.7 L736.4,730.5 L737.2,732.4 L738.0,734.2 L738.8,736.0 L739.6,737.9 L740.4,739.7 L741.2,741.5 L742.1,743.3 L743.0,745.1 L743.8,746.9 L744.8,748.7 L745.7,750.5 L746.6,752.2 L747.6,754.0 L748.5,755.7 L749.5,757.5 L750.6,759.2 L751.6,760.9 L752.6,762.6 L753.7,764.3 L754.8,766.0 L755.9,767.6 L757.1,769.3 L758.2,770.9 L759.4,772.6 L760.6,774.2 L761.8,775.8 L763.1,777.4 L764.4,778.9 L765.7,780.5 L767.0,782.0 L768.3,783.5 L769.7,785.0 L771.1,786.4 L772.5,787.9 L773.9,789.3 L775.4,790.7 L776.9,792.0 L778.4,793.3 L779.9,794.6 L781.5,795.8 L783.0,797.0 L784.7,798.2 L786.3,799.3 L788.0,800.4 L789.6,801.5 L791.3,802.5 L793.1,803.5 L794.8,804.4 L796.6,805.3 L798.4,806.1 L800.2,807.0 L802.0,807.7 L803.9,808.5 L805.7,809.2 L807.6,809.9 L809.5,810.5 L811.4,811.1 L813.3,811.7 L815.2,812.2 L817.2,812.7 L819.1,813.2 L821.1,813.6 L823.0,814.0 L825.0,814.4 L827.0,814.7 L829.0,815.1 L831.0,815.3 L832.9,815.6 L834.9,815.8 L836.9,816.0 L838.9,816.1 L840.9,816.3 L842.9,816.4 L844.9,816.5 L846.9,816.5 L848.9,816.5 L851.0,816.5 L853.0,816.5 L855.0,816.4 L857.0,816.4 L859.0,816.3 L861.0,816.1 L863.0,816.0 L865.0,815.8 L867.0,815.6 L869.0,815.4 L871.0,815.2 L873.0,814.9 L875.1,814.6 L877.0,814.3 L879.0,814.0 L881.0,813.7 L883.0,813.3 L885.0,813.0 L887.0,812.6 L889.0,812.2 L890.9,811.7 L892.9,811.3 L894.9,810.9 L896.8,810.4 L898.8,809.9 L900.7,809.4 L902.7,808.9 L904.6,808.4 L906.6,807.8 L908.5,807.3 L910.4,806.7 L912.3,806.1 L914.2,805.5 L916.1,804.9 L918.0,804.3 L919.9,803.6 L921.8,803.0 L923.7,802.3 L925.6,801.6 L927.4,800.8 L929.3,800.1 L931.1,799.4 L933.0,798.6 L934.9,797.8 L936.7,797.0 L938.5,796.2 L940.4,795.4 L942.2,794.6 L944.0,793.8 L945.9,792.9 L947.7,792.1 L949.5,791.2 L951.3,790.4 L953.1,789.5 L955.0,788.7 L956.8,787.8 L958.6,786.9 L960.4,786.1 L962.2,785.2 L964.0,784.3 L965.8,783.4 L967.6,782.5 L969.3,781.6 L971.1,780.7 L972.9,779.8 L974.7,778.8 L976.5,777.9 L978.2,777.0 L980.0,776.1 L981.8,775.1 L983.5,774.2 L985.3,773.2 L987.1,772.3 L988.8,771.3 L990.6,770.3 L992.3,769.4 L994.1,768.4 L995.8,767.4 L997.5,766.4 L999.3,765.4 L1001.0,764.4 L1002.7,763.4 L1004.5,762.4 L1006.2,761.4 L1007.9,760.4 L1009.6,759.4 L1011.3,758.4 L1013.1,757.3 L1014.8,756.3 L1016.5,755.3 L1018.2,754.2 L1019.9,753.2 L1021.6,752.1 L1023.3,751.1 L1025.0,750.0 L1026.7,748.9 L1028.3,747.9 L1030.0,746.8 L1031.7,745.7 L1033.4,744.6 L1035.0,743.5 L1036.7,742.4 L1038.4,741.4 L1040.1,740.2 L1041.7,739.1 L1043.4,738.0 L1045.0,736.9 L1046.7,735.8 L1048.3,734.7 L1050.0,733.5 L1051.6,732.4 L1053.3,731.3 L1054.9,730.1 L1056.5,729.0 L1058.2,727.8 L1059.8,726.7 L1061.4,725.5 L1063.0,724.3 L1064.7,723.2 L1066.3,722.0 L1067.9,720.8 L1069.5,719.6 L1071.1,718.5 L1072.7,717.3 L1074.3,716.1 L1075.9,714.9 L1077.5,713.7 L1079.1,712.5 L1080.7,711.3 L1082.3,710.0 L1083.9,708.8 L1085.4,707.6 L1087.0,706.4 L1088.6,705.1 L1090.2,703.9 L1091.7,702.7 L1093.3,701.4 L1094.9,700.2 L1096.4,698.9 L1098.0,697.7 L1099.5,696.4 L1101.1,695.2 L1102.6,693.9 L1104.2,692.6 L1105.7,691.3 L1107.3,690.1 L1108.8,688.8 L1110.3,687.5 L1111.9,686.2 L1113.4,684.9 L1114.9,683.6 L1116.4,682.3 L1118.0,681.0 L1119.5,679.7 L1121.0,678.4 L1122.5,677.1 L1124.0,675.8 L1125.5,674.4 L1127.0,673.1 L1128.5,671.8 L1130.0,670.5 L1131.5,669.1 L1133.0,667.8 L1134.5,666.4 L1135.9,665.1 L1137.4,663.7 L1138.9,662.4 L1140.4,661.0 L1141.8,659.7 L1143.3,658.3 L1144.8,656.9 L1146.2,655.6 L1147.7,654.2 L1149.2,652.8 L1150.6,651.4 L1152.1,650.0 L1153.5,648.7 L1155.0,647.3 L1156.4,645.9 L1157.8,644.5 L1159.3,643.1 L1160.7,641.7 L1162.1,640.3 L1163.6,638.9 L1165.0,637.4 L1166.4,636.0 L1167.8,634.6 L1169.2,633.2 L1170.6,631.8 L1172.1,630.3 L1173.5,628.9 L1174.9,627.5 L1176.3,626.0 L1177.7,624.6 L1179.1,623.1 L1180.4,621.7 L1181.8,620.2 L1183.2,618.8 L1184.6,617.3 L1186.0,615.9 L1187.4,614.4 L1188.7,613.0 L1190.1,611.5 L1191.5,610.0 L1192.8,608.5 L1194.2,607.1 L1195.6,605.6 L1196.9,604.1 L1198.3,602.6 L1199.6,601.1 L1201.0,599.6 L1202.3,598.2 L1203.7,596.7 L1205.0,595.2 L1206.3,593.7 L1207.7,592.2 L1209.0,590.7 L1210.3,589.1 L1211.6,587.6 L1213.0,586.1 L1214.3,584.6 L1215.6,583.1 L1216.9,581.6 L1218.2,580.0 L1219.5,578.5 L1220.8,577.0 L1222.1,575.5 L1223.4,573.9 L1224.7,572.4 L1226.0,570.9 L1227.3,569.3 L1228.6,567.8 L1229.9,566.2 L1231.1,564.7 L1232.4,563.1 L1233.7,561.6 L1235.0,560.0 L1236.2,558.5 L1237.5,556.9 L1238.8,555.3 L1240.0,553.8 L1241.3,552.2 L1242.5,550.7 L1243.8,549.1 L1245.0,547.5 L1246.3,545.9 L1247.5,544.4 L1248.8,542.8 L1250.0,541.2 L1251.2,539.6 L1252.5,538.0 L1253.7,536.4 L1254.9,534.9 L1256.1,533.3 L1257.4,531.7 L1258.6,530.1 L1259.8,528.5 L1261.0,526.9 L1262.2,525.3 L1263.4,523.7 L1264.6,522.1 L1265.8,520.5 L1267.0,518.9 L1268.2,517.3 L1269.4,515.6 L1270.6,514.0 L1271.8,512.4 L1272.9,510.8 L1274.1,509.2 L1275.3,507.6 L1276.5,505.9 L1277.6,504.3 L1278.8,502.7 L1280.0,501.1 L1281.1,499.4 L1282.3,497.8 L1283.4,496.2 L1284.6,494.5 L1285.7,492.9 L1286.9,491.2 L1288.0,489.6 L1289.2,488.0 L1290.3,486.3 L1291.5,484.7 L1292.6,483.0 L1293.7,481.4 L1294.9,479.7 L1296.0,478.1 L1297.1,476.4 L1298.2,474.8 L1299.3,473.1 L1300.5,471.4 L1301.6,469.8 L1302.7,468.1 L1303.8,466.4 L1304.9,464.8 L1306.0,463.1 L1307.1,461.4 L1308.2,459.8 L1309.3,458.1 L1310.4,456.4 L1311.5,454.7 L1312.5,453.1 L1313.6,451.4 L1314.7,449.7 L1315.8,448.0 L1316.9,446.3 L1317.9,444.6 L1319.0,442.9 L1320.1,441.2 L1321.1,439.6 L1322.2,437.9 L1323.3,436.2 L1324.3,434.5 L1325.4,432.8 L1326.4,431.1 L1327.5,429.4 L1328.5,427.7 L1329.6,426.0 L1330.6,424.3 L1331.6,422.5 L1332.7,420.8 L1333.7,419.1 L1334.7,417.4 L1335.8,415.7 L1336.8,414.0 L1337.8,412.3 L1338.8,410.5 L1339.9,408.8 L1340.9,407.1 L1341.9,405.4 L1342.9,403.7 L1343.9,401.9 L1344.9,400.2 L1345.9,398.5 L1346.9,396.7 L1347.9,395.0 L1348.9,393.3 L1349.9,391.5 L1350.9,389.8 L1351.9,388.1 L1352.9,386.3 L1353.9,384.6 L1354.8,382.8 L1355.8,381.1 L1356.8,379.3 L1357.8,377.6 L1358.7,375.9 L1359.7,374.1 L1360.7,372.4 L1361.6,370.6 L1362.6,368.8 L1363.6,367.1 L1364.5,365.3 L1365.5,363.6 L1366.4,361.8 L1367.4,360.1 L1368.3,358.3 L1369.3,356.5 L1370.2,354.8 L1371.2,353.0 L1372.1,351.2 L1373.0,349.5 L1374.0,347.7 L1374.9,345.9 L1375.8,344.2 L1376.8,342.4 L1377.7,340.6 L1378.6,338.8 L1379.5,337.1 L1380.5,335.3 L1381.4,333.5 L1382.3,331.7 L1383.2,329.9 L1384.1,328.2 L1385.0,326.4 L1385.9,324.6 L1386.8,322.8 L1387.7,321.0 L1388.6,319.2 L1389.5,317.4 L1390.4,315.6 L1391.3,313.9 L1392.2,312.1 L1393.1,310.3 L1394.0,308.5 L1394.9,306.7 L1395.7,304.9 L1396.6,303.1 L1397.5,301.3 L1398.4,299.5 L1399.2,297.7 L1400.1,295.9 L1401.0,294.1 L1401.8,292.3 L1402.7,290.4 L1403.6,288.6 L1404.4,286.8 L1405.3,285.0 L1406.1,283.2 L1407.0,281.4 L1407.8,279.6 L1408.7,277.8 L1409.5,276.0 L1410.4,274.1 L1411.2,272.3 L1412.1,270.5 L1412.9,268.7 L1413.7,266.9 L1414.6,265.0 L1415.4,263.2 L1416.2,261.4 L1417.1,259.6 L1417.9,257.7 L1418.7,255.9 L1419.5,254.1 L1420.4,252.3 L1421.2,250.4 L1422.0,248.6 L1422.8,246.8 L1423.6,244.9 L1424.4,243.1 L1425.2,241.3 L1426.1,239.4 L1426.9,237.6 L1427.7,235.8 L1428.5,233.9 L1429.3,232.1 L1430.1,230.3 L1430.9,228.4 L1431.6,226.6 L1432.4,224.7 L1433.2,222.9 L1434.0,221.0 L1434.8,219.2 L1435.6,217.4 L1436.4,215.5 L1437.1,213.7 L1437.9,211.8 L1438.7,210.0 L1439.5,208.1 L1440.2,206.3 L1441.0,204.4 L1441.8,202.6 L1442.6,200.7 L1443.3,198.9 L1444.1,197.0 L1444.8,195.1 L1445.6,193.3 L1446.4,191.4 L1447.1,189.6 L1447.9,187.7 L1448.6,185.9 L1449.4,184.0 L1450.1,182.1 L1450.9,180.3 L1451.6,178.4 L1452.4,176.6 L1453.1,174.7" fill="none" stroke="#37AD6B" stroke-width="12" stroke-dasharray="59.1 37.6 9.0 38.6 60.1 37.6 9.0 38.6 59.1 37.6 9.0 38.6 59.1 37.6 9.0 37.6 59.1 37.5 9.0 38.5 59.1 37.6 9.0 126.5 9.0 37.7 59.0 36.5 9.0 38.7 57.3 30.5 9.0 35.6 46.9 33.7 9.0 28.8 49.1 31.6 9.0 33.5 73.9 31.5 9.0 36.5 51.1 36.7 9.0 34.7 54.2 36.6 9.0 33.5 50.0 37.5 9.0 35.5 56.0 35.6 9.0 38.6 57.1 2361.1"/>
<path d="M626.9,509.3 L627.6,504.3 L630.0,496.1 L633.1,487.9 L637.0,479.9 L640.5,475.9 L644.0,472.8 L647.5,471.0 L650.8,471.0" fill="none" stroke="#37AD6B" stroke-width="12" stroke-linejoin="round"/>
<g fill="#AA6CDB"><rect x="533" y="1369" width="16" height="2"/><rect x="535" y="1340" width="16" height="1"/><rect x="536" y="1310" width="16" height="2"/><rect x="538" y="1281" width="16" height="1"/><rect x="540" y="1251" width="16" height="2"/><rect x="543" y="1192" width="16" height="2"/><rect x="545" y="1163" width="16" height="1"/><rect x="547" y="1134" width="16" height="1"/><rect x="548" y="1104" width="16" height="1"/><rect x="550" y="1075" width="16" height="1"/><rect x="552" y="1045" width="16" height="2"/><rect x="553" y="1016" width="16" height="1"/><rect x="555" y="986" width="16" height="2"/><rect x="556" y="957" width="16" height="1"/><rect x="558" y="928" width="16" height="1"/><rect x="560" y="898" width="16" height="2"/><rect x="561" y="869" width="16" height="1"/><rect x="562" y="839" width="16" height="2"/><rect x="565" y="810" width="16" height="1"/><rect x="566" y="780" width="16" height="2"/><rect x="568" y="751" width="16" height="1"/><rect x="570" y="721" width="16" height="2"/><rect x="572" y="692" width="16" height="1"/><rect x="573" y="662" width="16" height="2"/><rect x="575" y="633" width="16" height="2"/><rect x="577" y="604" width="16" height="1"/><rect x="579" y="574" width="16" height="2"/><rect x="581" y="545" width="16" height="1"/><rect x="583" y="515" width="16" height="2"/><rect x="585" y="486" width="16" height="1"/><rect x="587" y="456" width="16" height="2"/><rect x="590" y="427" width="16" height="1"/><rect x="591" y="398" width="16" height="1"/><rect x="594" y="368" width="16" height="2"/><rect x="597" y="339" width="16" height="1"/><rect x="599" y="309" width="16" height="2"/><rect x="602" y="280" width="16" height="1"/><rect x="605" y="251" width="16" height="1"/><rect x="608" y="221" width="16" height="2"/><rect x="612" y="192" width="16" height="2"/><rect x="617" y="163" width="16" height="2"/><path d="M544.4,1217.6 L555.5,1228.1" stroke="#AA6CDB" stroke-width="2" fill="none"/></g>
</g>
<g id="axes" fill="#000">
<rect x="363" y="31" width="6" height="1540"/>
<rect x="2289" y="31" width="7" height="1540"/>
<rect x="350" y="31" width="1946" height="7"/>
<rect x="350" y="1564" width="1946" height="7"/>
<rect x="335" y="1454.8" width="28" height="6.4"/>
<rect x="350" y="1345.3" width="13" height="6.4"/>
<rect x="335" y="1235.8" width="28" height="6.4"/>
<rect x="350" y="1126.3" width="13" height="6.4"/>
<rect x="335" y="1016.8" width="28" height="6.4"/>
<rect x="350" y="907.3" width="13" height="6.4"/>
<rect x="335" y="797.8" width="28" height="6.4"/>
<rect x="350" y="688.3" width="13" height="6.4"/>
<rect x="335" y="578.8" width="28" height="6.4"/>
<rect x="350" y="469.3" width="13" height="6.4"/>
<rect x="335" y="359.8" width="28" height="6.4"/>
<rect x="350" y="250.3" width="13" height="6.4"/>
<rect x="335" y="140.8" width="28" height="6.4"/>
<rect x="350" y="31.3" width="13" height="6.4"/>
<rect x="363.0" y="1571" width="6.6" height="11"/>
<rect x="538.1" y="1571" width="6.6" height="27"/>
<rect x="713.2" y="1571" width="6.6" height="11"/>
<rect x="888.3" y="1571" width="6.6" height="27"/>
<rect x="1063.4" y="1571" width="6.6" height="11"/>
<rect x="1238.5" y="1571" width="6.6" height="27"/>
<rect x="1413.7" y="1571" width="6.6" height="11"/>
<rect x="1588.8" y="1571" width="6.6" height="27"/>
<rect x="1763.9" y="1571" width="6.6" height="11"/>
<rect x="1939.0" y="1571" width="6.6" height="27"/>
<rect x="2114.1" y="1571" width="6.6" height="11"/>
<rect x="2289.2" y="1571" width="6.6" height="27"/>
</g>
<g id="ticklabels">
<text x="315" y="1486.0" font-size="96.5" text-anchor="end">50</text>
<text x="315" y="1267.0" font-size="96.5" text-anchor="end">100</text>
<text x="315" y="1048.0" font-size="96.5" text-anchor="end">150</text>
<text x="315" y="829.0" font-size="96.5" text-anchor="end">200</text>
<text x="315" y="610.0" font-size="96.5" text-anchor="end">250</text>
<text x="315" y="391.0" font-size="96.5" text-anchor="end">300</text>
<text x="315" y="172.0" font-size="96.5" text-anchor="end">350</text>
<text x="541.4" y="1691" font-size="96.5" text-anchor="middle">0</text>
<text x="891.6" y="1691" font-size="96.5" text-anchor="middle">50</text>
<text x="1241.8" y="1691" font-size="96.5" text-anchor="middle">100</text>
<text x="1592.1" y="1691" font-size="96.5" text-anchor="middle">150</text>
<text x="1942.3" y="1691" font-size="96.5" text-anchor="middle">200</text>
<text x="2292.5" y="1691" font-size="96.5" text-anchor="middle">250</text>
</g>
<text x="1043" y="1803.6" font-size="95.4">Filling time (s)</text>
<text transform="translate(120.8,1170) rotate(-90)" x="0" y="0" font-size="95">Tank pressure (kPa)</text>
<g id="legend">
<line x1="960.0" y1="1217.0" x2="1122.5" y2="1217.0" stroke="#505050" stroke-width="10"/><text x="1162.0" y="1246.0" font-size="89.5" font-style="italic">T</text><text x="1213.0" y="1267.7" font-size="86">ini</text><text x="1302.6" y="1246.0" font-size="89.5">=50 K</text>
<line x1="1594.0" y1="1217.0" x2="1756.5" y2="1217.0" stroke="#EF4041" stroke-width="12" stroke-dasharray="50 66"/><text x="1796.0" y="1246.0" font-size="89.5" font-style="italic">T</text><text x="1847.0" y="1267.7" font-size="86">ini</text><text x="1936.6" y="1246.0" font-size="89.5">=70 K</text>
<line x1="960.0" y1="1349.0" x2="1122.5" y2="1349.0" stroke="#1B70DF" stroke-width="12" stroke-dasharray="20 32"/><text x="1162.0" y="1376.6" font-size="89.5" font-style="italic">T</text><text x="1213.0" y="1398.3" font-size="86">ini</text><text x="1302.6" y="1376.6" font-size="89.5">=90 K</text>
<line x1="1594.0" y1="1349.0" x2="1756.5" y2="1349.0" stroke="#37AD6B" stroke-width="12" stroke-dasharray="61 38 9 38"/><text x="1796.0" y="1376.6" font-size="89.5" font-style="italic">T</text><text x="1847.0" y="1398.3" font-size="86">ini</text><text x="1936.6" y="1376.6" font-size="89.5">=110 K</text>
<g fill="#AA6CDB"><rect x="960" y="1472" width="1" height="16"/><rect x="990" y="1472" width="1" height="16"/><rect x="1020" y="1472" width="1" height="16"/><rect x="1049" y="1472" width="2" height="16"/><rect x="1079" y="1472" width="2" height="16"/><rect x="1109" y="1472" width="2" height="16"/></g><text x="1162.0" y="1509.0" font-size="89.5" font-style="italic">T</text><text x="1213.0" y="1530.7" font-size="86">ini</text><text x="1302.6" y="1509.0" font-size="89.5">=130 K</text>
</g>
</svg>
</body></html>
